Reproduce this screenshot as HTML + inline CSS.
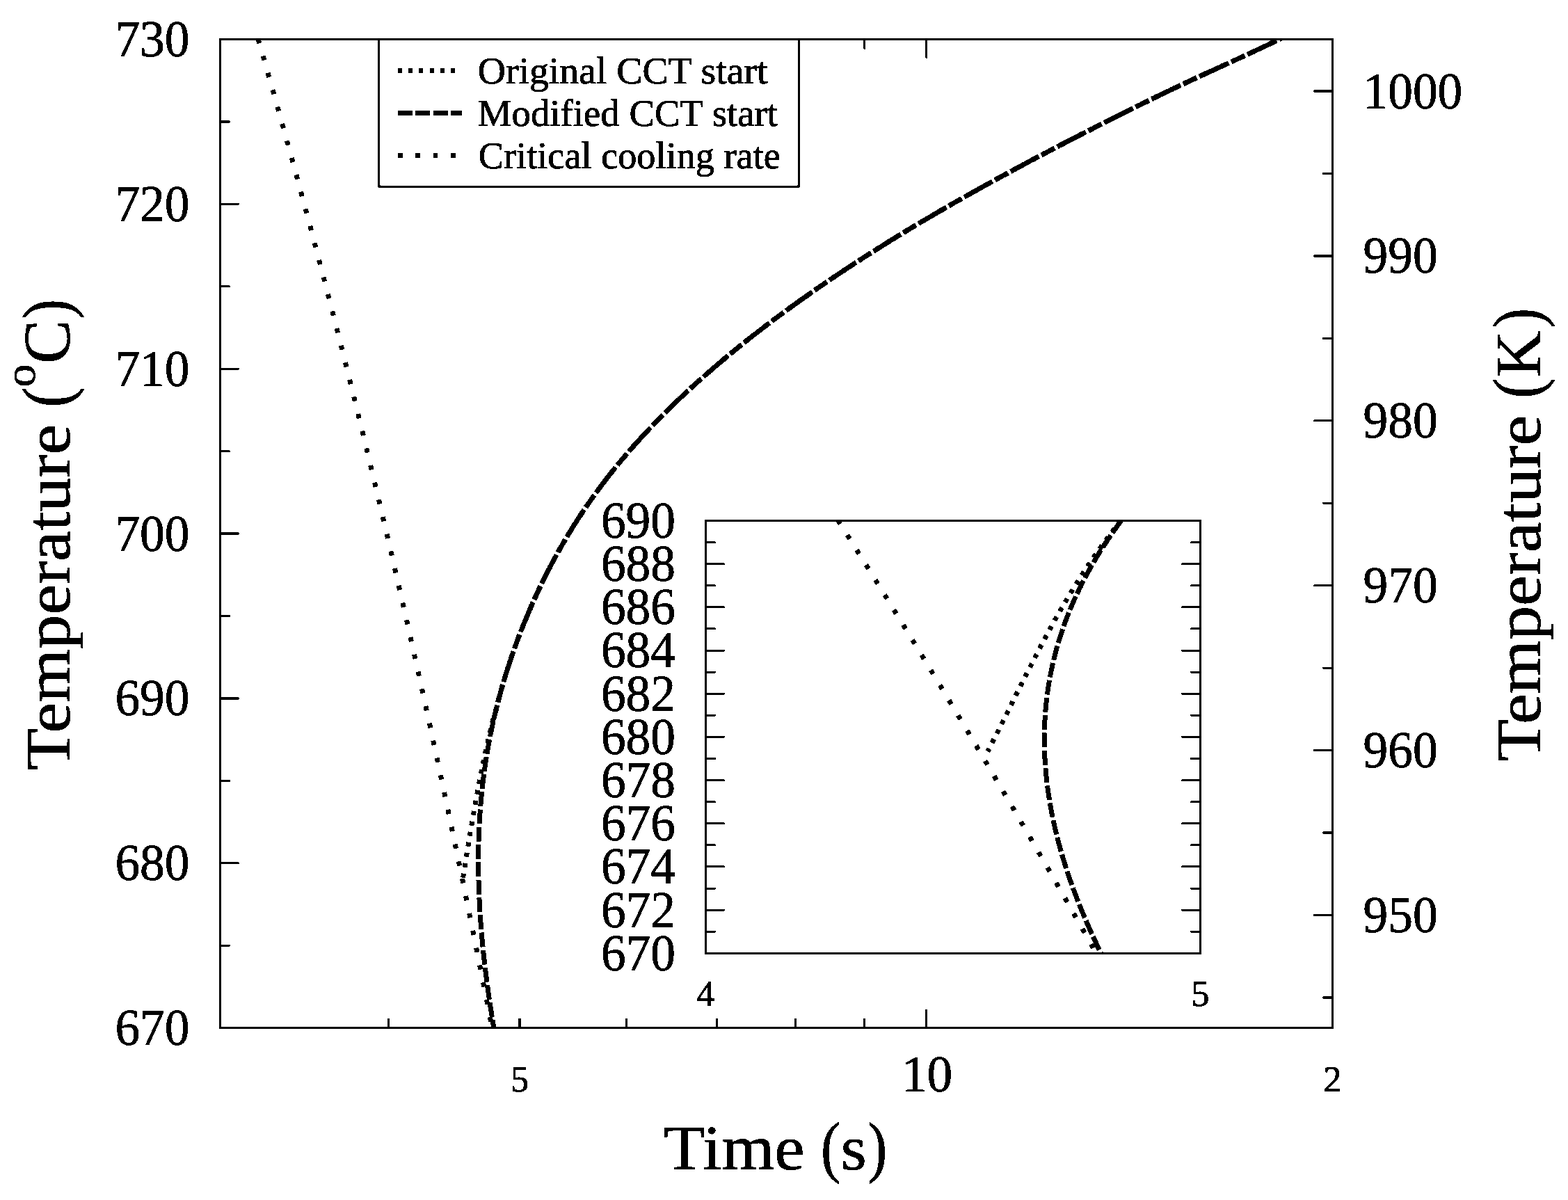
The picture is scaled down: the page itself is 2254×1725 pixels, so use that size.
<!DOCTYPE html><html><head><meta charset="utf-8"><title>CCT diagram</title><style>html,body{margin:0;padding:0;background:#fff;overflow:hidden}svg{display:block}text{font-family:'Liberation Serif', 'DejaVu Serif', serif;fill:#000;stroke:#000;stroke-width:0.80px}</style></head><body>
<svg width="2254" height="1725" viewBox="0 0 2254 1725">
<rect x="0" y="0" width="2254" height="1725" fill="#fff"/>
<filter id="bin" x="0" y="0" width="2254" height="1725" filterUnits="userSpaceOnUse" color-interpolation-filters="sRGB"><feColorMatrix type="matrix" values="0 0 0 0 0 0 0 0 0 0 0 0 0 0 0 -0.3333 -0.3333 -0.3333 1 0"/><feComponentTransfer><feFuncA type="discrete" tableValues="0 1"/></feComponentTransfer></filter>
<g filter="url(#bin)">
<defs><clipPath id="cm"><rect x="316.5" y="56.5" width="1599.0" height="1421.3"/></clipPath>
<clipPath id="ci"><rect x="1014.5" y="748.5" width="710.9" height="621.8"/></clipPath></defs>
<g clip-path="url(#cm)" fill="none" stroke="#000" stroke-width="7.0" stroke-linecap="butt" stroke-linejoin="round">
<path d="M1853.29,49.39 L1851.18,50.46 L1849.07,51.52 L1846.94,52.58 L1844.81,53.64 L1842.66,54.70 L1840.51,55.76 L1838.35,56.83 L1836.18,57.89 L1834.00,58.95 L1831.81,60.01 L1829.61,61.07 L1827.41,62.14 L1825.20,63.20 L1822.98,64.26 L1820.75,65.32 L1818.52,66.38 L1816.28,67.45 L1814.04,68.51 L1811.78,69.57 L1809.53,70.63 L1807.26,71.69 L1804.99,72.75 L1802.72,73.82 L1800.44,74.88 L1798.16,75.94 L1795.87,77.00 L1793.58,78.06 L1791.28,79.13 L1788.98,80.19 L1786.68,81.25 L1784.37,82.31 L1782.07,83.37 L1779.75,84.43 L1777.44,85.50 L1775.12,86.56 L1772.80,87.62 L1770.48,88.68 L1768.16,89.74 L1765.84,90.81 L1763.52,91.87 L1761.19,92.93 L1758.87,93.99 L1756.54,95.05 L1754.21,96.11 L1751.89,97.18 L1749.56,98.24 L1747.24,99.30 L1744.92,100.36 L1742.60,101.42 L1740.27,102.49 L1737.96,103.55 L1735.64,104.61 L1733.32,105.67 L1731.01,106.73 L1728.70,107.79 L1726.39,108.86 L1724.09,109.92 L1721.79,110.98 L1719.49,112.04 L1717.20,113.10 L1714.91,114.17 L1712.62,115.23 L1710.34,116.29 L1708.07,117.35 L1705.80,118.41 L1703.53,119.47 L1701.27,120.54 L1699.02,121.60 L1696.77,122.66 L1694.52,123.72 L1692.28,124.78 L1690.04,125.85 L1687.81,126.91 L1685.58,127.97 L1683.35,129.03 L1681.13,130.09 L1678.91,131.15 L1676.70,132.22 L1674.49,133.28 L1672.29,134.34 L1670.09,135.40 L1667.89,136.46 L1665.70,137.53 L1663.51,138.59 L1661.32,139.65 L1659.14,140.71 L1656.96,141.77 L1654.78,142.84 L1652.61,143.90 L1650.44,144.96 L1648.28,146.02 L1646.11,147.08 L1643.95,148.14 L1641.79,149.21 L1639.64,150.27 L1637.49,151.33 L1635.34,152.39 L1633.19,153.45 L1631.05,154.52 L1628.91,155.58 L1626.77,156.64 L1624.63,157.70 L1622.50,158.76 L1620.37,159.82 L1618.24,160.89 L1616.11,161.95 L1613.98,163.01 L1611.86,164.07 L1609.74,165.13 L1607.62,166.20 L1605.50,167.26 L1603.38,168.32 L1601.27,169.38 L1599.15,170.44 L1597.04,171.50 L1594.93,172.57 L1592.82,173.63 L1590.72,174.69 L1588.61,175.75 L1586.51,176.81 L1584.41,177.88 L1582.31,178.94 L1580.21,180.00 L1578.12,181.06 L1576.02,182.12 L1573.93,183.18 L1571.84,184.25 L1569.75,185.31 L1567.67,186.37 L1565.58,187.43 L1563.50,188.49 L1561.42,189.56 L1559.34,190.62 L1557.27,191.68 L1555.19,192.74 L1553.12,193.80 L1551.05,194.86 L1548.98,195.93 L1546.91,196.99 L1544.85,198.05 L1542.78,199.11 L1540.72,200.17 L1538.66,201.24 L1536.61,202.30 L1534.55,203.36 L1532.50,204.42 L1530.45,205.48 L1528.40,206.54 L1526.35,207.61 L1524.31,208.67 L1522.26,209.73 L1520.22,210.79 L1518.19,211.85 L1516.15,212.92 L1514.11,213.98 L1512.08,215.04 L1510.05,216.10 L1508.02,217.16 L1506.00,218.23 L1503.97,219.29 L1501.95,220.35 L1499.93,221.41 L1497.91,222.47 L1495.90,223.53 L1493.88,224.60 L1491.87,225.66 L1489.86,226.72 L1487.86,227.78 L1485.85,228.84 L1483.85,229.91 L1481.85,230.97 L1479.85,232.03 L1477.86,233.09 L1475.86,234.15 L1473.87,235.21 L1471.88,236.28 L1469.90,237.34 L1467.91,238.40 L1465.93,239.46 L1463.95,240.52 L1461.97,241.59 L1460.00,242.65 L1458.02,243.71 L1456.05,244.77 L1454.08,245.83 L1452.12,246.89 L1450.15,247.96 L1448.19,249.02 L1446.23,250.08 L1444.28,251.14 L1442.32,252.20 L1440.37,253.27 L1438.42,254.33 L1436.47,255.39 L1434.53,256.45 L1432.58,257.51 L1430.64,258.57 L1428.71,259.64 L1426.77,260.70 L1424.84,261.76 L1422.91,262.82 L1420.98,263.88 L1419.06,264.95 L1417.13,266.01 L1415.21,267.07 L1413.29,268.13 L1411.38,269.19 L1409.47,270.25 L1407.56,271.32 L1405.65,272.38 L1403.74,273.44 L1401.84,274.50 L1399.94,275.56 L1398.04,276.63 L1396.15,277.69 L1394.25,278.75 L1392.36,279.81 L1390.48,280.87 L1388.59,281.93 L1386.71,283.00 L1384.83,284.06 L1382.95,285.12 L1381.08,286.18 L1379.21,287.24 L1377.34,288.31 L1375.47,289.37 L1373.61,290.43 L1371.75,291.49 L1369.89,292.55 L1368.03,293.62 L1366.18,294.68 L1364.33,295.74 L1362.48,296.80 L1360.63,297.86 L1358.79,298.92 L1356.95,299.99 L1355.12,301.05 L1353.28,302.11 L1351.45,303.17 L1349.62,304.23 L1347.80,305.30 L1345.97,306.36 L1344.15,307.42 L1342.34,308.48 L1340.52,309.54 L1338.71,310.60 L1336.90,311.67 L1335.09,312.73 L1333.29,313.79 L1331.49,314.85 L1329.69,315.91 L1327.90,316.98 L1326.10,318.04 L1324.31,319.10 L1322.53,320.16 L1320.74,321.22 L1318.96,322.28 L1317.19,323.35 L1315.41,324.41 L1313.64,325.47 L1311.87,326.53 L1310.10,327.59 L1308.34,328.66 L1306.58,329.72 L1304.82,330.78 L1303.06,331.84 L1301.31,332.90 L1299.56,333.96 L1297.81,335.03 L1296.07,336.09 L1294.33,337.15 L1292.59,338.21 L1290.85,339.27 L1289.12,340.34 L1287.39,341.40 L1285.66,342.46 L1283.94,343.52 L1282.22,344.58 L1280.50,345.64 L1278.78,346.71 L1277.07,347.77 L1275.36,348.83 L1273.65,349.89 L1271.94,350.95 L1270.24,352.02 L1268.54,353.08 L1266.85,354.14 L1265.15,355.20 L1263.46,356.26 L1261.77,357.32 L1260.09,358.39 L1258.41,359.45 L1256.73,360.51 L1255.05,361.57 L1253.38,362.63 L1251.71,363.70 L1250.04,364.76 L1248.37,365.82 L1246.71,366.88 L1245.05,367.94 L1243.39,369.01 L1241.74,370.07 L1240.09,371.13 L1238.44,372.19 L1236.79,373.25 L1235.15,374.31 L1233.51,375.38 L1231.87,376.44 L1230.24,377.50 L1228.60,378.56 L1226.98,379.62 L1225.35,380.69 L1223.73,381.75 L1222.11,382.81 L1220.49,383.87 L1218.87,384.93 L1217.26,385.99 L1215.65,387.06 L1214.04,388.12 L1212.44,389.18 L1210.84,390.24 L1209.24,391.30 L1207.65,392.37 L1206.05,393.43 L1204.46,394.49 L1202.88,395.55 L1201.29,396.61 L1199.71,397.67 L1198.13,398.74 L1196.56,399.80 L1194.99,400.86 L1193.42,401.92 L1191.85,402.98 L1190.28,404.05 L1188.72,405.11 L1187.16,406.17 L1185.61,407.23 L1184.05,408.29 L1182.50,409.35 L1180.96,410.42 L1179.41,411.48 L1177.87,412.54 L1176.33,413.60 L1174.79,414.66 L1173.26,415.73 L1171.73,416.79 L1170.20,417.85 L1168.68,418.91 L1167.15,419.97 L1165.63,421.03 L1164.12,422.10 L1162.60,423.16 L1161.09,424.22 L1159.58,425.28 L1158.08,426.34 L1156.58,427.41 L1155.08,428.47 L1153.58,429.53 L1152.08,430.59 L1150.59,431.65 L1149.10,432.71 L1147.62,433.78 L1146.13,434.84 L1144.65,435.90 L1143.18,436.96 L1141.70,438.02 L1140.23,439.09 L1138.76,440.15 L1137.29,441.21 L1135.83,442.27 L1134.37,443.33 L1132.91,444.40 L1131.46,445.46 L1130.00,446.52 L1128.55,447.58 L1127.11,448.64 L1125.66,449.70 L1124.22,450.77 L1122.78,451.83 L1121.35,452.89 L1119.92,453.95 L1118.49,455.01 L1117.06,456.08 L1115.63,457.14 L1114.21,458.20 L1112.79,459.26 L1111.38,460.32 L1109.96,461.38 L1108.55,462.45 L1107.15,463.51 L1105.74,464.57 L1104.34,465.63 L1102.94,466.69 L1101.54,467.76 L1100.15,468.82 L1098.76,469.88 L1097.37,470.94 L1095.99,472.00 L1094.60,473.06 L1093.22,474.13 L1091.85,475.19 L1090.47,476.25 L1089.10,477.31 L1087.73,478.37 L1086.37,479.44 L1085.00,480.50 L1083.64,481.56 L1082.29,482.62 L1080.93,483.68 L1079.58,484.74 L1078.23,485.81 L1076.89,486.87 L1075.54,487.93 L1074.20,488.99 L1072.86,490.05 L1071.53,491.12 L1070.20,492.18 L1068.87,493.24 L1067.54,494.30 L1066.22,495.36 L1064.90,496.42 L1063.58,497.49 L1062.26,498.55 L1060.95,499.61 L1059.64,500.67 L1058.33,501.73 L1057.03,502.80 L1055.73,503.86 L1054.43,504.92 L1053.13,505.98 L1051.84,507.04 L1050.55,508.10 L1049.26,509.17 L1047.98,510.23 L1046.69,511.29 L1045.41,512.35 L1044.14,513.41 L1042.86,514.48 L1041.59,515.54 L1040.33,516.60 L1039.06,517.66 L1037.80,518.72 L1036.54,519.79 L1035.28,520.85 L1034.03,521.91 L1032.78,522.97 L1031.53,524.03 L1030.28,525.09 L1029.04,526.16 L1027.80,527.22 L1026.56,528.28 L1025.33,529.34 L1024.09,530.40 L1022.87,531.47 L1021.64,532.53 L1020.42,533.59 L1019.20,534.65 L1017.98,535.71 L1016.76,536.77 L1015.55,537.84 L1014.34,538.90 L1013.13,539.96 L1011.93,541.02 L1010.73,542.08 L1009.53,543.15 L1008.33,544.21 L1007.14,545.27 L1005.95,546.33 L1004.76,547.39 L1003.58,548.45 L1002.40,549.52 L1001.22,550.58 L1000.04,551.64 L998.87,552.70 L997.70,553.76 L996.53,554.83 L995.37,555.89 L994.20,556.95 L993.04,558.01 L991.89,559.07 L990.73,560.13 L989.58,561.20 L988.43,562.26 L987.29,563.32 L986.14,564.38 L985.00,565.44 L983.87,566.51 L982.73,567.57 L981.60,568.63 L980.47,569.69 L979.35,570.75 L978.22,571.81 L977.10,572.88 L975.98,573.94 L974.87,575.00 L973.76,576.06 L972.65,577.12 L971.54,578.19 L970.44,579.25 L969.34,580.31 L968.24,581.37 L967.14,582.43 L966.05,583.49 L964.96,584.56 L963.87,585.62 L962.79,586.68 L961.71,587.74 L960.63,588.80 L959.55,589.87 L958.48,590.93 L957.41,591.99 L956.34,593.05 L955.27,594.11 L954.21,595.18 L953.15,596.24 L952.10,597.30 L951.04,598.36 L949.99,599.42 L948.94,600.48 L947.90,601.55 L946.85,602.61 L945.81,603.67 L944.78,604.73 L943.74,605.79 L942.71,606.86 L941.68,607.92 L940.65,608.98 L939.63,610.04 L938.61,611.10 L937.59,612.16 L936.58,613.23 L935.56,614.29 L934.56,615.35 L933.55,616.41 L932.54,617.47 L931.54,618.54 L930.54,619.60 L929.55,620.66 L928.56,621.72 L927.57,622.78 L926.58,623.84 L925.59,624.91 L924.61,625.97 L923.63,627.03 L922.66,628.09 L921.68,629.15 L920.71,630.22 L919.74,631.28 L918.78,632.34 L917.82,633.40 L916.86,634.46 L915.90,635.52 L914.95,636.59 L913.99,637.65 L913.04,638.71 L912.10,639.77 L911.16,640.83 L910.22,641.90 L909.28,642.96 L908.34,644.02 L907.41,645.08 L906.48,646.14 L905.56,647.20 L904.63,648.27 L903.71,649.33 L902.79,650.39 L901.88,651.45 L900.96,652.51 L900.05,653.58 L899.15,654.64 L898.24,655.70 L897.34,656.76 L896.44,657.82 L895.55,658.88 L894.65,659.95 L893.76,661.01 L892.87,662.07 L891.99,663.13 L891.11,664.19 L890.23,665.26 L889.35,666.32 L888.48,667.38 L887.61,668.44 L886.74,669.50 L885.87,670.57 L885.01,671.63 L884.15,672.69 L883.29,673.75 L882.43,674.81 L881.58,675.87 L880.73,676.94 L879.89,678.00 L879.04,679.06 L878.20,680.12 L877.36,681.18 L876.52,682.25 L875.69,683.31 L874.86,684.37 L874.03,685.43 L873.21,686.49 L872.38,687.55 L871.56,688.62 L870.74,689.68 L869.93,690.74 L869.12,691.80 L868.31,692.86 L867.50,693.93 L866.69,694.99 L865.89,696.05 L865.09,697.11 L864.29,698.17 L863.50,699.23 L862.71,700.30 L861.92,701.36 L861.13,702.42 L860.34,703.48 L859.56,704.54 L858.78,705.61 L858.01,706.67 L857.23,707.73 L856.46,708.79 L855.69,709.85 L854.92,710.91 L854.16,711.98 L853.39,713.04 L852.64,714.10 L851.88,715.16 L851.12,716.22 L850.37,717.29 L849.62,718.35 L848.87,719.41 L848.13,720.47 L847.38,721.53 L846.64,722.59 L845.91,723.66 L845.17,724.72 L844.44,725.78 L843.71,726.84 L842.98,727.90 L842.25,728.97 L841.53,730.03 L840.81,731.09 L840.09,732.15 L839.37,733.21 L838.66,734.27 L837.95,735.34 L837.24,736.40 L836.53,737.46 L835.82,738.52 L835.12,739.58 L834.42,740.65 L833.72,741.71 L833.03,742.77 L832.33,743.83 L831.64,744.89 L830.95,745.96 L830.27,747.02 L829.58,748.08 L828.90,749.14 L828.22,750.20 L827.54,751.26 L826.87,752.33 L826.19,753.39 L825.52,754.45 L824.85,755.51 L824.19,756.57 L823.52,757.64 L822.86,758.70 L822.20,759.76 L821.54,760.82 L820.89,761.88 L820.23,762.94 L819.58,764.01 L818.93,765.07 L818.29,766.13 L817.64,767.19 L817.00,768.25 L816.36,769.32 L815.72,770.38 L815.08,771.44 L814.45,772.50 L813.81,773.56 L813.18,774.62 L812.56,775.69 L811.93,776.75 L811.31,777.81 L810.68,778.87 L810.06,779.93 L809.45,781.00 L808.83,782.06 L808.22,783.12 L807.61,784.18 L807.00,785.24 L806.39,786.30 L805.78,787.37 L805.18,788.43 L804.58,789.49 L803.98,790.55 L803.38,791.61 L802.79,792.68 L802.19,793.74 L801.60,794.80 L801.01,795.86 L800.42,796.92 L799.84,797.98 L799.25,799.05 L798.67,800.11 L798.09,801.17 L797.51,802.23 L796.94,803.29 L796.36,804.36 L795.79,805.42 L795.22,806.48 L794.65,807.54 L794.09,808.60 L793.52,809.66 L792.96,810.73 L792.40,811.79 L791.84,812.85 L791.28,813.91 L790.73,814.97 L790.17,816.04 L789.62,817.10 L789.07,818.16 L788.52,819.22 L787.98,820.28 L787.43,821.35 L786.89,822.41 L786.35,823.47 L785.81,824.53 L785.27,825.59 L784.74,826.65 L784.20,827.72 L783.67,828.78 L783.14,829.84 L782.61,830.90 L782.09,831.96 L781.56,833.03 L781.04,834.09 L780.52,835.15 L780.00,836.21 L779.48,837.27 L778.96,838.33 L778.45,839.40 L777.94,840.46 L777.43,841.52 L776.92,842.58 L776.41,843.64 L775.90,844.71 L775.40,845.77 L774.89,846.83 L774.39,847.89 L773.89,848.95 L773.40,850.01 L772.90,851.08 L772.41,852.14 L771.91,853.20 L771.42,854.26 L770.93,855.32 L770.44,856.39 L769.96,857.45 L769.47,858.51 L768.99,859.57 L768.51,860.63 L768.03,861.69 L767.55,862.76 L767.07,863.82 L766.60,864.88 L766.12,865.94 L765.65,867.00 L765.18,868.07 L764.71,869.13 L764.24,870.19 L763.77,871.25 L763.31,872.31 L762.85,873.37 L762.38,874.44 L761.92,875.50 L761.46,876.56 L761.01,877.62 L760.55,878.68 L760.10,879.75 L759.64,880.81 L759.19,881.87 L758.74,882.93 L758.30,883.99 L757.85,885.05 L757.40,886.12 L756.96,887.18 L756.52,888.24 L756.08,889.30 L755.64,890.36 L755.20,891.43 L754.76,892.49 L754.33,893.55 L753.90,894.61 L753.46,895.67 L753.03,896.74 L752.60,897.80 L752.18,898.86 L751.75,899.92 L751.33,900.98 L750.91,902.04 L750.48,903.11 L750.06,904.17 L749.65,905.23 L749.23,906.29 L748.81,907.35 L748.40,908.42 L747.99,909.48 L747.58,910.54 L747.17,911.60 L746.76,912.66 L746.35,913.72 L745.95,914.79 L745.55,915.85 L745.14,916.91 L744.74,917.97 L744.34,919.03 L743.95,920.10 L743.55,921.16 L743.16,922.22 L742.76,923.28 L742.37,924.34 L741.98,925.40 L741.59,926.47 L741.21,927.53 L740.82,928.59 L740.44,929.65 L740.05,930.71 L739.67,931.78 L739.29,932.84 L738.92,933.90 L738.54,934.96 L738.16,936.02 L737.79,937.08 L737.42,938.15 L737.05,939.21 L736.68,940.27 L736.31,941.33 L735.94,942.39 L735.58,943.46 L735.21,944.52 L734.85,945.58 L734.49,946.64 L734.13,947.70 L733.77,948.76 L733.42,949.83 L733.06,950.89 L732.71,951.95 L732.36,953.01 L732.01,954.07 L731.66,955.14 L731.31,956.20 L730.97,957.26 L730.62,958.32 L730.28,959.38 L729.94,960.44 L729.60,961.51 L729.26,962.57 L728.92,963.63 L728.59,964.69 L728.25,965.75 L727.92,966.82 L727.59,967.88 L727.26,968.94 L726.93,970.00 L726.60,971.06 L726.28,972.13 L725.95,973.19 L725.63,974.25 L725.31,975.31 L724.99,976.37 L724.67,977.43 L724.35,978.50 L724.04,979.56 L723.72,980.62 L723.41,981.68 L723.10,982.74 L722.79,983.81 L722.48,984.87 L722.17,985.93 L721.87,986.99 L721.56,988.05 L721.26,989.11 L720.96,990.18 L720.66,991.24 L720.36,992.30 L720.06,993.36 L719.77,994.42 L719.47,995.49 L719.18,996.55 L718.89,997.61 L718.60,998.67 L718.31,999.73 L718.03,1000.79 L717.74,1001.86 L717.46,1002.92 L717.17,1003.98" stroke-dasharray="21 4.33" stroke-dashoffset="5.00"/>
<path d="M717.17,1003.98 L716.96,1004.78 L716.75,1005.59 L716.54,1006.39 L716.33,1007.19 L716.12,1007.99 L715.91,1008.80 L715.70,1009.60 L715.50,1010.40 L715.29,1011.20 L715.08,1012.01 L714.88,1012.81 L714.67,1013.61 L714.47,1014.42 L714.27,1015.22 L714.07,1016.02 L713.87,1016.82 L713.67,1017.63 L713.47,1018.43 L713.27,1019.23 L713.07,1020.03 L712.88,1020.84 L712.68,1021.64 L712.49,1022.44 L712.29,1023.25 L712.10,1024.05 L711.91,1024.85 L711.71,1025.65 L711.52,1026.46 L711.33,1027.26 L711.14,1028.06 L710.96,1028.87 L710.77,1029.67 L710.58,1030.47 L710.40,1031.27 L710.21,1032.08 L710.03,1032.88 L709.84,1033.68 L709.66,1034.48 L709.48,1035.29 L709.30,1036.09 L709.12,1036.89 L708.94,1037.70 L708.76,1038.50 L708.58,1039.30 L708.40,1040.10 L708.23,1040.91 L708.05,1041.71 L707.87,1042.51 L707.70,1043.31 L707.53,1044.12 L707.35,1044.92 L707.18,1045.72 L707.01,1046.53 L706.84,1047.33 L706.67,1048.13 L706.50,1048.93 L706.34,1049.74 L706.17,1050.54 L706.00,1051.34 L705.84,1052.14 L705.67,1052.95 L705.51,1053.75 L705.35,1054.55 L705.18,1055.36 L705.02,1056.16 L704.86,1056.96 L704.70,1057.76 L704.54,1058.57 L704.39,1059.37 L704.23,1060.17 L704.07,1060.98 L703.92,1061.78 L703.76,1062.58 L703.61,1063.38 L703.45,1064.19 L703.30,1064.99 L703.15,1065.79 L703.00,1066.59 L702.85,1067.40 L702.70,1068.20 L702.55,1069.00 L702.40,1069.81 L702.25,1070.61 L702.11,1071.41 L701.96,1072.21 L701.82,1073.02 L701.67,1073.82 L701.53,1074.62 L701.39,1075.42 L701.25,1076.23 L701.11,1077.03 L700.97,1077.83 L700.83,1078.64 L700.69,1079.44 L700.55,1080.24 L700.41,1081.04 L700.28,1081.85 L700.14,1082.65 L700.01,1083.45 L699.87,1084.25 L699.74,1085.06 L699.61,1085.86 L699.48,1086.66 L699.35,1087.47 L699.22,1088.27 L699.09,1089.07 L698.96,1089.87 L698.83,1090.68 L698.70,1091.48 L698.58,1092.28 L698.45,1093.09 L698.33,1093.89 L698.20,1094.69 L698.08,1095.49 L697.96,1096.30 L697.84,1097.10 L697.72,1097.90 L697.60,1098.70 L697.48,1099.51 L697.36,1100.31 L697.24,1101.11 L697.13,1101.92 L697.01,1102.72 L696.89,1103.52 L696.78,1104.32 L696.67,1105.13 L696.55,1105.93 L696.44,1106.73 L696.33,1107.53 L696.22,1108.34 L696.11,1109.14 L696.00,1109.94 L695.89,1110.75 L695.78,1111.55 L695.68,1112.35 L695.57,1113.15 L695.47,1113.96 L695.36,1114.76 L695.26,1115.56 L695.16,1116.36 L695.05,1117.17 L694.95,1117.97 L694.85,1118.77 L694.75,1119.58 L694.65,1120.38 L694.55,1121.18 L694.45,1121.98 L694.36,1122.79 L694.26,1123.59 L694.17,1124.39 L694.07,1125.19 L693.98,1126.00 L693.88,1126.80 L693.79,1127.60 L693.70,1128.41 L693.61,1129.21 L693.52,1130.01 L693.43,1130.81 L693.34,1131.62 L693.25,1132.42 L693.16,1133.22 L693.08,1134.03 L692.99,1134.83 L692.91,1135.63 L692.82,1136.43 L692.74,1137.24 L692.65,1138.04 L692.57,1138.84 L692.49,1139.64 L692.41,1140.45 L692.33,1141.25 L692.25,1142.05 L692.17,1142.86 L692.09,1143.66 L692.02,1144.46 L691.94,1145.26 L691.86,1146.07 L691.79,1146.87 L691.71,1147.67 L691.64,1148.47 L691.57,1149.28 L691.49,1150.08 L691.42,1150.88 L691.35,1151.69 L691.28,1152.49 L691.21,1153.29 L691.14,1154.09 L691.08,1154.90 L691.01,1155.70 L690.94,1156.50 L690.88,1157.30 L690.81,1158.11 L690.75,1158.91 L690.68,1159.71 L690.62,1160.52 L690.56,1161.32 L690.49,1162.12 L690.43,1162.92 L690.37,1163.73 L690.31,1164.53 L690.25,1165.33 L690.20,1166.14 L690.14,1166.94 L690.08,1167.74 L690.03,1168.54 L689.97,1169.35 L689.91,1170.15 L689.86,1170.95 L689.81,1171.75 L689.75,1172.56 L689.70,1173.36 L689.65,1174.16 L689.60,1174.97 L689.55,1175.77 L689.50,1176.57 L689.45,1177.37 L689.40,1178.18 L689.36,1178.98 L689.31,1179.78 L689.26,1180.58 L689.22,1181.39 L689.17,1182.19 L689.13,1182.99 L689.09,1183.80 L689.04,1184.60 L689.00,1185.40 L688.96,1186.20 L688.92,1187.01 L688.88,1187.81 L688.84,1188.61 L688.80,1189.41 L688.76,1190.22 L688.73,1191.02 L688.69,1191.82 L688.65,1192.63 L688.62,1193.43 L688.58,1194.23 L688.55,1195.03 L688.52,1195.84 L688.48,1196.64 L688.45,1197.44 L688.42,1198.25 L688.39,1199.05 L688.36,1199.85 L688.33,1200.65 L688.30,1201.46 L688.27,1202.26 L688.24,1203.06 L688.22,1203.86 L688.19,1204.67 L688.16,1205.47 L688.14,1206.27 L688.11,1207.08 L688.09,1207.88 L688.07,1208.68 L688.05,1209.48 L688.02,1210.29 L688.00,1211.09 L687.98,1211.89 L687.96,1212.69 L687.94,1213.50 L687.92,1214.30 L687.91,1215.10 L687.89,1215.91 L687.87,1216.71 L687.86,1217.51 L687.84,1218.31 L687.82,1219.12 L687.81,1219.92 L687.80,1220.72 L687.78,1221.52 L687.77,1222.33 L687.76,1223.13 L687.75,1223.93 L687.74,1224.74 L687.73,1225.54 L687.72,1226.34 L687.71,1227.14 L687.70,1227.95 L687.69,1228.75 L687.69,1229.55 L687.68,1230.35 L687.67,1231.16 L687.67,1231.96 L687.67,1232.76 L687.66,1233.57 L687.66,1234.37 L687.66,1235.17 L687.65,1235.97 L687.65,1236.78 L687.65,1237.58 L687.65,1238.38 L687.65,1239.19 L687.65,1239.99 L687.65,1240.79 L687.66,1241.59 L687.66,1242.40 L687.66,1243.20 L687.67,1244.00 L687.67,1244.80 L687.68,1245.61 L687.68,1246.41 L687.69,1247.21 L687.69,1248.02 L687.70,1248.82 L687.71,1249.62 L687.72,1250.42 L687.73,1251.23 L687.74,1252.03 L687.75,1252.83 L687.76,1253.63 L687.77,1254.44 L687.78,1255.24 L687.80,1256.04 L687.81,1256.85 L687.82,1257.65 L687.84,1258.45 L687.85,1259.25 L687.87,1260.06 L687.88,1260.86 L687.90,1261.66 L687.92,1262.46 L687.94,1263.27 L687.95,1264.07 L687.97,1264.87 L687.99,1265.68 L688.01,1266.48 L688.03,1267.28 L688.05,1268.08 L688.08,1268.89 L688.10,1269.69 L688.12,1270.49 L688.15,1271.30 L688.17,1272.10 L688.19,1272.90 L688.22,1273.70 L688.24,1274.51 L688.27,1275.31 L688.30,1276.11 L688.33,1276.91 L688.35,1277.72 L688.38,1278.52 L688.41,1279.32 L688.44,1280.13 L688.47,1280.93 L688.50,1281.73 L688.53,1282.53 L688.56,1283.34 L688.60,1284.14 L688.63,1284.94 L688.66,1285.74 L688.70,1286.55 L688.73,1287.35 L688.77,1288.15 L688.80,1288.96 L688.84,1289.76 L688.87,1290.56 L688.91,1291.36 L688.95,1292.17 L688.99,1292.97 L689.03,1293.77 L689.07,1294.57 L689.11,1295.38 L689.15,1296.18 L689.19,1296.98 L689.23,1297.79 L689.27,1298.59 L689.31,1299.39 L689.36,1300.19 L689.40,1301.00 L689.44,1301.80 L689.49,1302.60 L689.53,1303.41 L689.58,1304.21 L689.62,1305.01 L689.67,1305.81 L689.72,1306.62 L689.77,1307.42 L689.81,1308.22 L689.86,1309.02 L689.91,1309.83 L689.96,1310.63 L690.01,1311.43 L690.06,1312.24 L690.11,1313.04 L690.16,1313.84 L690.22,1314.64 L690.27,1315.45 L690.32,1316.25 L690.38,1317.05 L690.43,1317.85 L690.49,1318.66 L690.54,1319.46 L690.60,1320.26 L690.65,1321.07 L690.71,1321.87 L690.77,1322.67 L690.82,1323.47 L690.88,1324.28 L690.94,1325.08 L691.00,1325.88 L691.06,1326.68 L691.12,1327.49 L691.18,1328.29 L691.24,1329.09 L691.30,1329.90 L691.37,1330.70 L691.43,1331.50 L691.49,1332.30 L691.56,1333.11 L691.62,1333.91 L691.68,1334.71 L691.75,1335.51 L691.81,1336.32 L691.88,1337.12 L691.95,1337.92 L692.01,1338.73 L692.08,1339.53 L692.15,1340.33 L692.22,1341.13 L692.29,1341.94 L692.35,1342.74 L692.42,1343.54 L692.49,1344.35 L692.57,1345.15 L692.64,1345.95 L692.71,1346.75 L692.78,1347.56 L692.85,1348.36 L692.93,1349.16 L693.00,1349.96 L693.07,1350.77 L693.15,1351.57 L693.22,1352.37 L693.30,1353.18 L693.37,1353.98 L693.45,1354.78 L693.53,1355.58 L693.60,1356.39 L693.68,1357.19 L693.76,1357.99 L693.84,1358.79 L693.92,1359.60 L694.00,1360.40 L694.08,1361.20 L694.16,1362.01 L694.24,1362.81 L694.32,1363.61 L694.40,1364.41 L694.48,1365.22 L694.56,1366.02 L694.65,1366.82 L694.73,1367.62 L694.81,1368.43 L694.90,1369.23 L694.98,1370.03 L695.07,1370.84 L695.15,1371.64 L695.24,1372.44 L695.33,1373.24 L695.41,1374.05 L695.50,1374.85 L695.59,1375.65 L695.68,1376.46 L695.76,1377.26 L695.85,1378.06 L695.94,1378.86 L696.03,1379.67 L696.12,1380.47 L696.21,1381.27 L696.30,1382.07 L696.40,1382.88 L696.49,1383.68 L696.58,1384.48 L696.67,1385.29 L696.77,1386.09 L696.86,1386.89 L696.95,1387.69 L697.05,1388.50 L697.14,1389.30 L697.24,1390.10 L697.33,1390.90 L697.43,1391.71 L697.53,1392.51 L697.62,1393.31 L697.72,1394.12 L697.82,1394.92 L697.92,1395.72 L698.01,1396.52 L698.11,1397.33 L698.21,1398.13 L698.31,1398.93 L698.41,1399.73 L698.51,1400.54 L698.61,1401.34 L698.71,1402.14 L698.82,1402.95 L698.92,1403.75 L699.02,1404.55 L699.12,1405.35 L699.23,1406.16 L699.33,1406.96 L699.43,1407.76 L699.54,1408.57 L699.64,1409.37 L699.75,1410.17 L699.85,1410.97 L699.96,1411.78 L700.07,1412.58 L700.17,1413.38 L700.28,1414.18 L700.39,1414.99 L700.50,1415.79 L700.60,1416.59 L700.71,1417.40 L700.82,1418.20 L700.93,1419.00 L701.04,1419.80 L701.15,1420.61 L701.26,1421.41 L701.37,1422.21 L701.48,1423.01 L701.59,1423.82 L701.71,1424.62 L701.82,1425.42 L701.93,1426.23 L702.04,1427.03 L702.16,1427.83 L702.27,1428.63 L702.39,1429.44 L702.50,1430.24 L702.62,1431.04 L702.73,1431.84 L702.85,1432.65 L702.96,1433.45 L703.08,1434.25 L703.19,1435.06 L703.31,1435.86 L703.43,1436.66 L703.55,1437.46 L703.66,1438.27 L703.78,1439.07 L703.90,1439.87 L704.02,1440.67 L704.14,1441.48 L704.26,1442.28 L704.38,1443.08 L704.50,1443.89 L704.62,1444.69 L704.74,1445.49 L704.86,1446.29 L704.99,1447.10 L705.11,1447.90 L705.23,1448.70 L705.35,1449.51 L705.48,1450.31 L705.60,1451.11 L705.72,1451.91 L705.85,1452.72 L705.97,1453.52 L706.10,1454.32 L706.22,1455.12 L706.35,1455.93 L706.47,1456.73 L706.60,1457.53 L706.73,1458.34 L706.85,1459.14 L706.98,1459.94 L707.11,1460.74 L707.24,1461.55 L707.36,1462.35 L707.49,1463.15 L707.62,1463.95 L707.75,1464.76 L707.88,1465.56 L708.01,1466.36 L708.14,1467.17 L708.27,1467.97 L708.40,1468.77 L708.53,1469.57 L708.66,1470.38 L708.79,1471.18 L708.93,1471.98 L709.06,1472.78 L709.19,1473.59 L709.32,1474.39 L709.46,1475.19 L709.59,1476.00 L709.72,1476.80 L709.86,1477.60 L709.99,1478.40 L710.13,1479.21 L710.26,1480.01 L710.40,1480.81 L710.53,1481.62 L710.67,1482.42 L710.80,1483.22 L710.94,1484.02 L711.08,1484.83" stroke-dasharray="21 4.33" stroke-dashoffset="1535.19"/>
<path d="M1853.29,49.39 L1850.93,50.58 L1848.57,51.77 L1846.19,52.96 L1843.80,54.14 L1841.39,55.33 L1838.98,56.52 L1836.55,57.70 L1834.12,58.89 L1831.67,60.08 L1829.21,61.27 L1826.75,62.45 L1824.27,63.64 L1821.79,64.83 L1819.29,66.02 L1816.79,67.20 L1814.28,68.39 L1811.76,69.58 L1809.24,70.77 L1806.71,71.95 L1804.17,73.14 L1801.62,74.33 L1799.07,75.51 L1796.52,76.70 L1793.96,77.89 L1791.39,79.08 L1788.82,80.26 L1786.24,81.45 L1783.66,82.64 L1781.08,83.83 L1778.49,85.01 L1775.90,86.20 L1773.31,87.39 L1770.72,88.57 L1768.12,89.76 L1765.52,90.95 L1762.93,92.14 L1760.33,93.32 L1757.73,94.51 L1755.13,95.70 L1752.53,96.89 L1749.93,98.07 L1747.33,99.26 L1744.73,100.45 L1742.13,101.63 L1739.54,102.82 L1736.95,104.01 L1734.36,105.20 L1731.77,106.38 L1729.19,107.57 L1726.61,108.76 L1724.03,109.95 L1721.46,111.13 L1718.89,112.32 L1716.33,113.51 L1713.77,114.70 L1711.22,115.88 L1708.67,117.07 L1706.13,118.26 L1703.60,119.44 L1701.07,120.63 L1698.55,121.82 L1696.03,123.01 L1693.52,124.19 L1691.02,125.38 L1688.52,126.57 L1686.02,127.76 L1683.54,128.94 L1681.05,130.13 L1678.58,131.32 L1676.10,132.50 L1673.63,133.69 L1671.17,134.88 L1668.71,136.07 L1666.26,137.25 L1663.81,138.44 L1661.37,139.63 L1658.92,140.82 L1656.49,142.00 L1654.06,143.19 L1651.63,144.38 L1649.20,145.56 L1646.78,146.75 L1644.37,147.94 L1641.96,149.13 L1639.55,150.31 L1637.14,151.50 L1634.74,152.69 L1632.34,153.88 L1629.94,155.06 L1627.55,156.25 L1625.16,157.44 L1622.77,158.63 L1620.39,159.81 L1618.01,161.00 L1615.63,162.19 L1613.25,163.37 L1610.88,164.56 L1608.51,165.75 L1606.14,166.94 L1603.77,168.12 L1601.41,169.31 L1599.04,170.50 L1596.68,171.69 L1594.32,172.87 L1591.97,174.06 L1589.61,175.25 L1587.26,176.43 L1584.91,177.62 L1582.56,178.81 L1580.22,180.00 L1577.88,181.18 L1575.53,182.37 L1573.20,183.56 L1570.86,184.75 L1568.53,185.93 L1566.20,187.12 L1563.87,188.31 L1561.54,189.49 L1559.22,190.68 L1556.89,191.87 L1554.58,193.06 L1552.26,194.24 L1549.94,195.43 L1547.63,196.62 L1545.32,197.81 L1543.02,198.99 L1540.71,200.18 L1538.41,201.37 L1536.11,202.56 L1533.81,203.74 L1531.52,204.93 L1529.22,206.12 L1526.94,207.30 L1524.65,208.49 L1522.36,209.68 L1520.08,210.87 L1517.80,212.05 L1515.53,213.24 L1513.25,214.43 L1510.98,215.62 L1508.71,216.80 L1506.44,217.99 L1504.18,219.18 L1501.92,220.36 L1499.66,221.55 L1497.41,222.74 L1495.15,223.93 L1492.90,225.11 L1490.66,226.30 L1488.41,227.49 L1486.17,228.68 L1483.93,229.86 L1481.69,231.05 L1479.46,232.24 L1477.23,233.42 L1475.00,234.61 L1472.77,235.80 L1470.55,236.99 L1468.33,238.17 L1466.12,239.36 L1463.90,240.55 L1461.69,241.74 L1459.48,242.92 L1457.28,244.11 L1455.07,245.30 L1452.87,246.49 L1450.68,247.67 L1448.48,248.86 L1446.29,250.05 L1444.11,251.23 L1441.92,252.42 L1439.74,253.61 L1437.56,254.80 L1435.38,255.98 L1433.21,257.17 L1431.04,258.36 L1428.87,259.55 L1426.71,260.73 L1424.55,261.92 L1422.39,263.11 L1420.24,264.29 L1418.08,265.48 L1415.94,266.67 L1413.79,267.86 L1411.65,269.04 L1409.51,270.23 L1407.37,271.42 L1405.24,272.61 L1403.11,273.79 L1400.98,274.98 L1398.86,276.17 L1396.74,277.35 L1394.62,278.54 L1392.51,279.73 L1390.40,280.92 L1388.29,282.10 L1386.19,283.29 L1384.09,284.48 L1381.99,285.67 L1379.90,286.85 L1377.80,288.04 L1375.72,289.23 L1373.63,290.42 L1371.55,291.60 L1369.47,292.79 L1367.40,293.98 L1365.33,295.16 L1363.26,296.35 L1361.20,297.54 L1359.14,298.73 L1357.08,299.91 L1355.02,301.10 L1352.97,302.29 L1350.93,303.48 L1348.88,304.66 L1346.84,305.85 L1344.81,307.04 L1342.77,308.22 L1340.74,309.41 L1338.72,310.60 L1336.69,311.79 L1334.68,312.97 L1332.66,314.16 L1330.65,315.35 L1328.64,316.54 L1326.63,317.72 L1324.63,318.91 L1322.63,320.10 L1320.64,321.28 L1318.65,322.47 L1316.66,323.66 L1314.68,324.85 L1312.70,326.03 L1310.72,327.22 L1308.75,328.41 L1306.78,329.60 L1304.81,330.78 L1302.85,331.97 L1300.89,333.16 L1298.93,334.34 L1296.98,335.53 L1295.03,336.72 L1293.09,337.91 L1291.15,339.09 L1289.21,340.28 L1287.27,341.47 L1285.34,342.66 L1283.41,343.84 L1281.49,345.03 L1279.57,346.22 L1277.65,347.41 L1275.74,348.59 L1273.83,349.78 L1271.92,350.97 L1270.02,352.15 L1268.12,353.34 L1266.22,354.53 L1264.33,355.72 L1262.44,356.90 L1260.56,358.09 L1258.68,359.28 L1256.80,360.47 L1254.92,361.65 L1253.05,362.84 L1251.18,364.03 L1249.32,365.21 L1247.46,366.40 L1245.60,367.59 L1243.75,368.78 L1241.90,369.96 L1240.05,371.15 L1238.21,372.34 L1236.37,373.53 L1234.53,374.71 L1232.70,375.90 L1230.87,377.09 L1229.04,378.27 L1227.22,379.46 L1225.40,380.65 L1223.59,381.84 L1221.78,383.02 L1219.97,384.21 L1218.16,385.40 L1216.36,386.59 L1214.57,387.77 L1212.77,388.96 L1210.98,390.15 L1209.19,391.34 L1207.41,392.52 L1205.63,393.71 L1203.85,394.90 L1202.08,396.08 L1200.31,397.27 L1198.55,398.46 L1196.78,399.65 L1195.02,400.83 L1193.27,402.02 L1191.52,403.21 L1189.77,404.40 L1188.02,405.58 L1186.28,406.77 L1184.54,407.96 L1182.81,409.14 L1181.08,410.33 L1179.35,411.52 L1177.63,412.71 L1175.91,413.89 L1174.19,415.08 L1172.48,416.27 L1170.77,417.46 L1169.06,418.64 L1167.36,419.83 L1165.66,421.02 L1163.96,422.20 L1162.27,423.39 L1160.58,424.58 L1158.90,425.77 L1157.21,426.95 L1155.54,428.14 L1153.86,429.33 L1152.19,430.52 L1150.52,431.70 L1148.86,432.89 L1147.20,434.08 L1145.54,435.27 L1143.89,436.45 L1142.24,437.64 L1140.59,438.83 L1138.94,440.01 L1137.31,441.20 L1135.67,442.39 L1134.04,443.58 L1132.41,444.76 L1130.78,445.95 L1129.16,447.14 L1127.54,448.33 L1125.92,449.51 L1124.31,450.70 L1122.70,451.89 L1121.10,453.07 L1119.50,454.26 L1117.90,455.45 L1116.31,456.64 L1114.71,457.82 L1113.13,459.01 L1111.54,460.20 L1109.96,461.39 L1108.39,462.57 L1106.81,463.76 L1105.24,464.95 L1103.68,466.13 L1102.11,467.32 L1100.55,468.51 L1099.00,469.70 L1097.45,470.88 L1095.90,472.07 L1094.35,473.26 L1092.81,474.45 L1091.27,475.63 L1089.74,476.82 L1088.20,478.01 L1086.68,479.20 L1085.15,480.38 L1083.63,481.57 L1082.11,482.76 L1080.60,483.94 L1079.09,485.13 L1077.58,486.32 L1076.08,487.51 L1074.58,488.69 L1073.08,489.88 L1071.59,491.07 L1070.10,492.26 L1068.61,493.44 L1067.13,494.63 L1065.65,495.82 L1064.18,497.00 L1062.70,498.19 L1061.23,499.38 L1059.77,500.57 L1058.31,501.75 L1056.85,502.94 L1055.40,504.13 L1053.94,505.32 L1052.50,506.50 L1051.05,507.69 L1049.61,508.88 L1048.17,510.06 L1046.74,511.25 L1045.31,512.44 L1043.88,513.63 L1042.46,514.81 L1041.04,516.00 L1039.62,517.19 L1038.21,518.38 L1036.80,519.56 L1035.40,520.75 L1033.99,521.94 L1032.59,523.13 L1031.20,524.31 L1029.81,525.50 L1028.42,526.69 L1027.03,527.87 L1025.65,529.06 L1024.27,530.25 L1022.90,531.44 L1021.53,532.62 L1020.16,533.81 L1018.80,535.00 L1017.44,536.19 L1016.08,537.37 L1014.72,538.56 L1013.37,539.75 L1012.03,540.93 L1010.68,542.12 L1009.34,543.31 L1008.01,544.50 L1006.68,545.68 L1005.35,546.87 L1004.02,548.06 L1002.70,549.25 L1001.38,550.43 L1000.06,551.62 L998.75,552.81 L997.44,553.99 L996.14,555.18 L994.84,556.37 L993.54,557.56 L992.24,558.74 L990.95,559.93 L989.67,561.12 L988.38,562.31 L987.10,563.49 L985.82,564.68 L984.55,565.87 L983.28,567.06 L982.01,568.24 L980.75,569.43 L979.49,570.62 L978.23,571.80 L976.98,572.99 L975.73,574.18 L974.49,575.37 L973.24,576.55 L972.00,577.74 L970.77,578.93 L969.54,580.12 L968.31,581.30 L967.08,582.49 L965.86,583.68 L964.64,584.86 L963.43,586.05 L962.22,587.24 L961.01,588.43 L959.81,589.61 L958.61,590.80 L957.41,591.99 L956.21,593.18 L955.02,594.36 L953.84,595.55 L952.65,596.74 L951.47,597.92 L950.30,599.11 L949.12,600.30 L947.95,601.49 L946.79,602.67 L945.63,603.86 L944.47,605.05 L943.31,606.24 L942.16,607.42 L941.01,608.61 L939.86,609.80 L938.72,610.98 L937.58,612.17 L936.45,613.36 L935.32,614.55 L934.19,615.73 L933.07,616.92 L931.94,618.11 L930.83,619.30 L929.71,620.48 L928.60,621.67 L927.50,622.86 L926.39,624.05 L925.29,625.23 L924.19,626.42 L923.10,627.61 L922.01,628.79 L920.93,629.98 L919.84,631.17 L918.76,632.36 L917.69,633.54 L916.61,634.73 L915.55,635.92 L914.48,637.11 L913.42,638.29 L912.36,639.48 L911.30,640.67 L910.25,641.85 L909.20,643.04 L908.16,644.23 L907.12,645.42 L906.08,646.60 L905.04,647.79 L904.01,648.98 L902.99,650.17 L901.96,651.35 L900.94,652.54 L899.92,653.73 L898.91,654.91 L897.90,656.10 L896.89,657.29 L895.89,658.48 L894.89,659.66 L893.89,660.85 L892.90,662.04 L891.91,663.23 L890.93,664.41 L889.94,665.60 L888.96,666.79 L887.99,667.98 L887.02,669.16 L886.05,670.35 L885.08,671.54 L884.12,672.72 L883.16,673.91 L882.20,675.10 L881.25,676.29 L880.30,677.47 L879.36,678.66 L878.42,679.85 L877.48,681.04 L876.54,682.22 L875.61,683.41 L874.68,684.60 L873.76,685.78 L872.83,686.97 L871.91,688.16 L871.00,689.35 L870.09,690.53 L869.18,691.72 L868.27,692.91 L867.37,694.10 L866.47,695.28 L865.57,696.47 L864.68,697.66 L863.79,698.84 L862.90,700.03 L862.02,701.22 L861.14,702.41 L860.26,703.59 L859.39,704.78 L858.52,705.97 L857.65,707.16 L856.78,708.34 L855.92,709.53 L855.06,710.72 L854.21,711.91 L853.36,713.09 L852.51,714.28 L851.66,715.47 L850.82,716.65 L849.98,717.84 L849.14,719.03 L848.31,720.22 L847.48,721.40 L846.65,722.59 L845.82,723.78 L845.00,724.97 L844.18,726.15 L843.37,727.34 L842.55,728.53 L841.74,729.71 L840.94,730.90 L840.13,732.09 L839.33,733.28 L838.53,734.46 L837.74,735.65 L836.94,736.84 L836.15,738.03 L835.37,739.21 L834.58,740.40 L833.80,741.59 L833.02,742.77 L832.25,743.96 L831.48,745.15 L830.71,746.34 L829.94,747.52 L829.18,748.71 L828.41,749.90 L827.66,751.09 L826.90,752.27 L826.15,753.46 L825.40,754.65 L824.65,755.84 L823.91,757.02 L823.16,758.21 L822.42,759.40 L821.69,760.58 L820.95,761.77 L820.22,762.96 L819.50,764.15 L818.77,765.33 L818.05,766.52 L817.33,767.71 L816.61,768.90 L815.89,770.08 L815.18,771.27 L814.47,772.46 L813.77,773.64 L813.06,774.83 L812.36,776.02 L811.66,777.21 L810.96,778.39 L810.27,779.58 L809.58,780.77 L808.89,781.96 L808.20,783.14 L807.52,784.33 L806.84,785.52 L806.16,786.70 L805.48,787.89 L804.81,789.08 L804.14,790.27 L803.47,791.45 L802.81,792.64 L802.14,793.83 L801.48,795.02 L800.82,796.20 L800.17,797.39 L799.51,798.58 L798.86,799.77 L798.21,800.95 L797.56,802.14 L796.92,803.33 L796.28,804.51 L795.64,805.70 L795.00,806.89 L794.37,808.08 L793.73,809.26 L793.10,810.45 L792.48,811.64 L791.85,812.83 L791.23,814.01 L790.61,815.20 L789.99,816.39 L789.37,817.57 L788.76,818.76 L788.15,819.95 L787.54,821.14 L786.93,822.32 L786.33,823.51 L785.73,824.70 L785.13,825.89 L784.53,827.07 L783.93,828.26 L783.34,829.45 L782.75,830.63 L782.16,831.82 L781.57,833.01 L780.99,834.20 L780.40,835.38 L779.82,836.57 L779.24,837.76 L778.67,838.95 L778.09,840.13 L777.52,841.32 L776.95,842.51 L776.38,843.70 L775.82,844.88 L775.25,846.07 L774.69,847.26 L774.13,848.44 L773.58,849.63 L773.02,850.82 L772.47,852.01 L771.92,853.19 L771.37,854.38 L770.82,855.57 L770.27,856.76 L769.73,857.94 L769.19,859.13 L768.65,860.32 L768.11,861.50 L767.58,862.69 L767.04,863.88 L766.51,865.07 L765.98,866.25 L765.45,867.44 L764.93,868.63 L764.40,869.82 L763.88,871.00 L763.36,872.19 L762.84,873.38 L762.33,874.56 L761.81,875.75 L761.30,876.94 L760.79,878.13 L760.28,879.31 L759.77,880.50 L759.27,881.69 L758.77,882.88 L758.27,884.06 L757.77,885.25 L757.27,886.44 L756.77,887.62 L756.28,888.81 L755.79,890.00 L755.30,891.19 L754.81,892.37 L754.32,893.56 L753.84,894.75 L753.36,895.94 L752.88,897.12 L752.40,898.31 L751.92,899.50 L751.45,900.69 L750.97,901.87 L750.50,903.06 L750.03,904.25 L749.57,905.43 L749.10,906.62 L748.64,907.81 L748.17,909.00 L747.71,910.18 L747.26,911.37 L746.80,912.56 L746.35,913.75 L745.89,914.93 L745.44,916.12 L744.99,917.31 L744.55,918.49 L744.10,919.68 L743.66,920.87 L743.22,922.06 L742.78,923.24 L742.34,924.43 L741.90,925.62 L741.47,926.81 L741.04,927.99 L740.61,929.18 L740.18,930.37 L739.75,931.55 L739.33,932.74 L738.90,933.93 L738.48,935.12 L738.06,936.30 L737.65,937.49 L737.23,938.68 L736.82,939.87 L736.41,941.05 L736.00,942.24 L735.59,943.43 L735.18,944.62 L734.78,945.80 L734.37,946.99 L733.97,948.18 L733.57,949.36 L733.18,950.55 L732.78,951.74 L732.39,952.93 L732.00,954.11 L731.61,955.30 L731.22,956.49 L730.83,957.68 L730.45,958.86 L730.06,960.05 L729.68,961.24 L729.30,962.42 L728.93,963.61 L728.55,964.80 L728.18,965.99 L727.81,967.17 L727.44,968.36 L727.07,969.55 L726.70,970.74 L726.34,971.92 L725.97,973.11 L725.61,974.30 L725.25,975.48 L724.90,976.67 L724.54,977.86 L724.19,979.05 L723.84,980.23 L723.49,981.42 L723.14,982.61 L722.79,983.80 L722.45,984.98 L722.10,986.17 L721.76,987.36 L721.42,988.55 L721.09,989.73 L720.75,990.92 L720.42,992.11 L720.08,993.29 L719.75,994.48 L719.42,995.67 L719.10,996.86 L718.77,998.04 L718.45,999.23 L718.13,1000.42 L717.81,1001.61 L717.49,1002.79 L717.17,1003.98" stroke-dasharray="6 9.198" stroke-dashoffset="5.00"/>
<path d="M717.17,1003.98 L716.86,1005.18 L716.54,1006.38 L716.23,1007.58 L715.91,1008.78 L715.60,1009.98 L715.30,1011.18 L714.99,1012.38 L714.68,1013.57 L714.38,1014.77 L714.08,1015.97 L713.78,1017.17 L713.48,1018.37 L713.19,1019.57 L712.89,1020.77 L712.60,1021.97 L712.31,1023.17 L712.02,1024.37 L711.74,1025.57 L711.45,1026.77 L710.49,1027.97 L710.18,1029.17 L709.87,1030.37 L709.56,1031.56 L709.26,1032.76 L708.95,1033.96 L708.65,1035.16 L708.35,1036.36 L708.05,1037.56 L707.75,1038.76 L707.45,1039.96 L707.15,1041.16 L706.86,1042.36 L706.56,1043.56 L706.27,1044.76 L705.98,1045.96 L705.69,1047.16 L705.40,1048.36 L705.11,1049.55 L704.82,1050.75 L704.53,1051.95 L704.25,1053.15 L703.96,1054.35 L703.68,1055.55 L703.40,1056.75 L703.11,1057.95 L702.83,1059.15 L702.55,1060.35 L702.28,1061.55 L702.00,1062.75 L701.72,1063.95 L701.45,1065.15 L701.17,1066.35 L700.90,1067.55 L700.63,1068.74 L700.36,1069.94 L700.09,1071.14 L699.82,1072.34 L699.55,1073.54 L699.28,1074.74 L699.01,1075.94 L698.75,1077.14 L698.49,1078.34 L698.22,1079.54 L697.96,1080.74 L697.70,1081.94 L697.44,1083.14 L697.18,1084.34 L696.92,1085.54 L696.66,1086.73 L696.40,1087.93 L696.15,1089.13 L695.89,1090.33 L695.64,1091.53 L695.39,1092.73 L695.13,1093.93 L694.88,1095.13 L694.63,1096.33 L694.38,1097.53 L694.13,1098.73" stroke-dasharray="6 9.198" stroke-dashoffset="1535.19"/>
<path d="M694.13,1098.73 L693.88,1099.93 L693.64,1101.13 L693.39,1102.33 L693.14,1103.54 L692.90,1104.74 L692.65,1105.94 L692.41,1107.14 L692.17,1108.34 L691.92,1109.54 L691.68,1110.75 L691.44,1111.95 L691.20,1113.15 L690.96,1114.35 L690.73,1115.55 L690.49,1116.75 L690.25,1117.96 L690.02,1119.16 L689.78,1120.36 L689.55,1121.56 L689.31,1122.76 L689.08,1123.97 L688.85,1125.17 L688.62,1126.37 L688.39,1127.57 L688.16,1128.77 L687.93,1129.97 L687.70,1131.18 L687.47,1132.38 L687.24,1133.58 L687.02,1134.78 L686.79,1135.98 L686.56,1137.18 L686.34,1138.39 L686.12,1139.59 L685.89,1140.79 L685.67,1141.99 L685.45,1143.19 L685.23,1144.40 L685.00,1145.60 L684.78,1146.80 L684.56,1148.00 L684.35,1149.20 L684.13,1150.40 L683.91,1151.61 L683.69,1152.81 L683.47,1154.01 L683.26,1155.21 L683.04,1156.41 L682.83,1157.61 L682.61,1158.82 L682.40,1160.02 L682.18,1161.22 L681.97,1162.42 L681.76,1163.62 L681.55,1164.83 L681.33,1166.03 L681.12,1167.23 L680.91,1168.43 L680.70,1169.63 L680.49,1170.83 L680.28,1172.04 L680.08,1173.24 L679.87,1174.44 L679.66,1175.64 L679.45,1176.84 L679.25,1178.04 L679.04,1179.25 L678.83,1180.45 L678.63,1181.65 L678.42,1182.85 L678.22,1184.05 L678.01,1185.26 L677.81,1186.46 L677.60,1187.66 L677.40,1188.86 L677.20,1190.06 L677.00,1191.26 L676.79,1192.47 L676.59,1193.67 L676.39,1194.87 L676.19,1196.07 L675.99,1197.27 L675.79,1198.47 L675.59,1199.68 L675.39,1200.88 L675.19,1202.08 L674.99,1203.28 L674.79,1204.48 L674.59,1205.69 L674.39,1206.89 L674.20,1208.09 L674.00,1209.29 L673.80,1210.49 L673.60,1211.69 L673.41,1212.90 L673.21,1214.10 L673.01,1215.30 L672.82,1216.50 L672.62,1217.70 L672.42,1218.90 L672.23,1220.11 L672.03,1221.31 L671.84,1222.51 L671.64,1223.71 L671.45,1224.91 L671.25,1226.12 L671.06,1227.32 L670.86,1228.52 L670.67,1229.72 L670.48,1230.92 L670.28,1232.12 L670.09,1233.33 L669.90,1234.53 L669.70,1235.73 L669.51,1236.93 L669.32,1238.13 L669.12,1239.33 L668.93,1240.54 L668.74,1241.74 L668.54,1242.94 L668.35,1244.14 L668.16,1245.34 L667.97,1246.55 L667.77,1247.75 L667.58,1248.95 L667.39,1250.15 L667.20,1251.35 L667.00,1252.55 L666.81,1253.76 L666.62,1254.96 L666.43,1256.16 L666.24,1257.36 L666.04,1258.56 L665.85,1259.76 L665.66,1260.97 L665.47,1262.17" stroke-dasharray="6 9.198" stroke-dashoffset="1633.86"/>
<path d="M364.17,32.81 L366.33,40.19 L368.49,47.57 L370.64,54.95 L372.78,62.33 L374.92,69.71 L377.05,77.09 L379.18,84.47 L381.31,91.85 L383.42,99.23 L385.54,106.61 L387.64,113.99 L389.74,121.37 L391.84,128.75 L393.93,136.13 L396.02,143.51 L398.10,150.89 L400.17,158.27 L402.25,165.65 L404.31,173.03 L406.37,180.41 L408.43,187.79 L410.48,195.17 L412.52,202.55 L414.56,209.93 L416.60,217.31 L418.63,224.69 L420.66,232.07 L422.68,239.45 L424.69,246.83 L426.71,254.21 L428.71,261.59 L430.71,268.97 L432.71,276.35 L434.70,283.73 L436.69,291.11 L438.67,298.49 L440.65,305.87 L442.63,313.25 L444.60,320.63 L446.56,328.01 L448.52,335.39 L450.48,342.77 L452.43,350.15 L454.37,357.53 L456.31,364.91 L458.25,372.29 L460.19,379.67 L462.11,387.05 L464.04,394.43 L465.96,401.81 L467.87,409.19 L469.78,416.57 L471.69,423.95 L473.59,431.33 L475.49,438.71 L477.39,446.09 L479.28,453.47 L481.16,460.85 L483.04,468.23 L484.92,475.61 L486.79,482.99 L488.66,490.36 L490.53,497.74 L492.39,505.12 L494.24,512.50 L496.10,519.88 L497.94,527.26 L499.79,534.64 L501.63,542.02 L503.46,549.40 L505.30,556.78 L507.13,564.16 L508.95,571.54 L510.77,578.92 L512.59,586.30 L514.40,593.68 L516.21,601.06 L518.01,608.44 L519.81,615.82 L521.61,623.20 L523.40,630.58 L525.19,637.96 L526.98,645.34 L528.76,652.72 L530.54,660.10 L532.31,667.48 L534.08,674.86 L535.85,682.24 L537.61,689.62 L539.37,697.00 L541.13,704.38 L542.88,711.76 L544.63,719.14 L546.38,726.52 L548.12,733.90 L549.85,741.28 L551.59,748.66 L553.32,756.04 L555.05,763.42 L556.77,770.80 L558.49,778.18 L560.21,785.56 L561.92,792.94 L563.63,800.32 L565.34,807.70 L567.04,815.08 L568.74,822.46 L570.43,829.84 L572.13,837.22 L573.82,844.60 L575.50,851.98 L577.18,859.36 L578.86,866.74 L580.54,874.12 L582.21,881.50 L583.88,888.88 L585.55,896.26 L587.21,903.64 L588.87,911.02 L590.52,918.40 L592.18,925.78 L593.83,933.16 L595.47,940.54 L597.12,947.92 L598.76,955.30 L600.39,962.68 L602.03,970.06 L603.66,977.44 L605.28,984.82 L606.91,992.20 L608.53,999.58 L610.15,1006.96 L611.76,1014.34 L613.37,1021.72 L614.98,1029.10 L616.59,1036.48 L618.19,1043.86 L619.79,1051.23 L621.38,1058.61 L622.98,1065.99 L624.57,1073.37 L626.16,1080.75 L627.74,1088.13 L629.32,1095.51 L630.90,1102.89 L632.47,1110.27 L634.05,1117.65 L635.62,1125.03 L637.18,1132.41 L638.75,1139.79 L640.31,1147.17 L641.87,1154.55 L643.42,1161.93 L644.97,1169.31 L646.52,1176.69 L648.07,1184.07 L649.61,1191.45 L651.15,1198.83 L652.69,1206.21 L654.23,1213.59 L655.76,1220.97 L657.29,1228.35 L658.82,1235.73 L660.34,1243.11 L661.86,1250.49 L663.38,1257.87 L664.90,1265.25 L666.41,1272.63 L667.92,1280.01 L669.43,1287.39 L670.94,1294.77 L672.44,1302.15 L673.94,1309.53 L675.43,1316.91 L676.93,1324.29 L678.42,1331.67 L679.91,1339.05 L681.40,1346.43 L682.88,1353.81 L684.36,1361.19 L685.84,1368.57 L687.32,1375.95 L688.79,1383.33 L690.26,1390.71 L691.73,1398.09 L693.20,1405.47 L694.66,1412.85 L696.12,1420.23 L697.58,1427.61 L699.04,1434.99 L700.49,1442.37 L701.94,1449.75 L703.39,1457.13 L704.83,1464.51 L706.28,1471.89 L707.72,1479.27 L709.16,1486.65 L710.59,1494.03 L712.03,1501.41" stroke-dasharray="6.5 18.86" stroke-dashoffset="1.20"/>
</g>
<g stroke="#000" stroke-width="3.0" fill="none">
<path d="M316.5,1477.72H343.5 M316.5,1359.29H330.5 M316.5,1240.85H343.5 M316.5,1122.41H330.5 M316.5,1003.98H343.5 M316.5,885.55H330.5 M316.5,767.11H343.5 M316.5,648.68H330.5 M316.5,530.24H343.5 M316.5,411.81H330.5 M316.5,293.37H343.5 M316.5,174.94H330.5 M316.5,56.50H343.5 M1915.5,1433.90H1901.5 M1915.5,1315.46H1888.5 M1915.5,1197.03H1901.5 M1915.5,1078.59H1888.5 M1915.5,960.16H1901.5 M1915.5,841.72H1888.5 M1915.5,723.29H1901.5 M1915.5,604.85H1888.5 M1915.5,486.42H1901.5 M1915.5,367.98H1888.5 M1915.5,249.55H1901.5 M1915.5,131.11H1888.5 M558.83,1477.8V1463.8 M747.00,1477.8V1463.8 M900.75,1477.8V1463.8 M1030.74,1477.8V1463.8 M1143.34,1477.8V1463.8 M1242.66,1477.8V1463.8 M1331.51,1477.8V1450.8 M1242.66,56.5V70.5 M1331.51,56.5V83.5"/>
<rect x="316.5" y="56.5" width="1599.0" height="1421.3"/>
</g>
<rect x="544.9" y="56.5" width="603.5" height="211.5" fill="#fff" stroke="#000" stroke-width="3.0"/>
<g fill="none" stroke="#000" stroke-width="7.0">
<path d="M572,101.4H655" stroke-dasharray="6 9.198"/>
<path d="M572,162.4H664" stroke-dasharray="21 4.33"/>
<path d="M572,223.4H655" stroke-dasharray="6.5 18.86"/>
</g>
<rect x="1014.5" y="748.5" width="710.9" height="621.8" fill="#fff" stroke="none"/>
<g clip-path="url(#ci)" fill="none" stroke="#000" stroke-width="7.0" stroke-linecap="butt" stroke-linejoin="round">
<path d="M1616.44,742.28 L1615.84,743.08 L1615.24,743.87 L1614.63,744.66 L1614.03,745.46 L1613.44,746.25 L1612.84,747.04 L1612.25,747.84 L1611.65,748.63 L1611.06,749.43 L1610.47,750.22 L1609.89,751.01 L1609.30,751.81 L1608.72,752.60 L1608.13,753.40 L1607.55,754.19 L1606.98,754.98 L1606.40,755.78 L1605.82,756.57 L1605.25,757.36 L1604.68,758.16 L1604.11,758.95 L1603.54,759.75 L1602.97,760.54 L1602.41,761.33 L1601.85,762.13 L1601.28,762.92 L1600.72,763.71 L1600.17,764.51 L1599.61,765.30 L1599.06,766.10 L1598.50,766.89 L1597.95,767.68 L1597.40,768.48 L1596.86,769.27 L1596.31,770.06 L1595.77,770.86 L1595.22,771.65 L1594.68,772.45 L1594.14,773.24 L1593.61,774.03 L1593.07,774.83 L1592.54,775.62 L1592.00,776.41 L1591.47,777.21 L1590.95,778.00 L1590.42,778.80 L1589.89,779.59 L1589.37,780.38 L1588.85,781.18 L1588.33,781.97 L1587.81,782.77 L1587.29,783.56 L1586.78,784.35 L1586.26,785.15 L1585.75,785.94 L1585.24,786.73 L1584.73,787.53 L1584.23,788.32 L1583.72,789.12 L1583.22,789.91 L1582.72,790.70 L1582.22,791.50 L1581.72,792.29 L1581.22,793.08 L1580.73,793.88 L1580.23,794.67 L1579.74,795.47 L1579.25,796.26 L1578.76,797.05 L1578.28,797.85 L1577.79,798.64 L1577.31,799.43 L1576.83,800.23 L1576.35,801.02 L1575.87,801.82 L1575.39,802.61 L1574.92,803.40 L1574.44,804.20 L1573.97,804.99 L1573.50,805.78 L1573.03,806.58 L1572.57,807.37 L1572.10,808.17 L1571.64,808.96 L1571.18,809.75 L1570.72,810.55 L1570.26,811.34 L1569.80,812.14 L1569.35,812.93 L1568.89,813.72 L1568.44,814.52 L1567.99,815.31 L1567.54,816.10 L1567.09,816.90 L1566.65,817.69 L1566.21,818.49 L1565.76,819.28 L1565.32,820.07 L1564.88,820.87 L1564.45,821.66 L1564.01,822.45 L1563.58,823.25 L1563.15,824.04 L1562.72,824.84 L1562.29,825.63 L1561.86,826.42 L1561.43,827.22 L1561.01,828.01 L1560.59,828.80 L1560.17,829.60 L1559.75,830.39 L1559.33,831.19 L1558.91,831.98 L1558.50,832.77 L1558.09,833.57 L1557.67,834.36 L1557.27,835.16 L1556.86,835.95 L1556.45,836.74 L1556.05,837.54 L1555.64,838.33 L1555.24,839.12 L1554.84,839.92 L1554.44,840.71 L1554.05,841.51 L1553.65,842.30 L1553.26,843.09 L1552.87,843.89 L1552.48,844.68 L1552.09,845.47 L1551.70,846.27 L1551.31,847.06 L1550.93,847.86 L1550.55,848.65 L1550.17,849.44 L1549.79,850.24 L1549.41,851.03 L1549.03,851.82 L1548.66,852.62 L1548.29,853.41 L1547.92,854.21 L1547.55,855.00 L1547.18,855.79 L1546.81,856.59 L1546.45,857.38 L1546.08,858.17 L1545.72,858.97 L1545.36,859.76 L1545.00,860.56 L1544.65,861.35 L1544.29,862.14 L1543.94,862.94 L1543.58,863.73 L1543.23,864.53 L1542.88,865.32 L1542.54,866.11 L1542.19,866.91 L1541.84,867.70 L1541.50,868.49 L1541.16,869.29 L1540.82,870.08 L1540.48,870.88 L1540.15,871.67 L1539.81,872.46 L1539.48,873.26 L1539.14,874.05 L1538.81,874.84 L1538.48,875.64 L1538.16,876.43 L1537.83,877.23 L1537.51,878.02 L1537.18,878.81 L1536.86,879.61 L1536.54,880.40 L1536.22,881.19 L1535.91,881.99 L1535.59,882.78 L1535.28,883.58 L1534.97,884.37 L1534.66,885.16 L1534.35,885.96 L1534.04,886.75 L1533.73,887.55 L1533.43,888.34 L1533.12,889.13 L1532.82,889.93 L1532.52,890.72 L1532.22,891.51 L1531.93,892.31 L1531.63,893.10 L1531.34,893.90 L1531.05,894.69 L1530.76,895.48 L1530.47,896.28 L1530.18,897.07 L1529.89,897.86 L1529.61,898.66 L1529.32,899.45 L1529.04,900.25 L1528.76,901.04 L1528.48,901.83 L1528.21,902.63 L1527.93,903.42 L1527.66,904.21 L1527.38,905.01 L1527.11,905.80 L1526.84,906.60 L1526.57,907.39 L1526.31,908.18 L1526.04,908.98 L1525.78,909.77 L1525.52,910.56 L1525.25,911.36 L1525.00,912.15 L1524.74,912.95 L1524.48,913.74 L1524.23,914.53 L1523.97,915.33 L1523.72,916.12 L1523.47,916.92 L1523.22,917.71 L1522.97,918.50 L1522.73,919.30 L1522.48,920.09 L1522.24,920.88 L1522.00,921.68 L1521.76,922.47 L1521.52,923.27 L1521.28,924.06 L1521.05,924.85 L1520.81,925.65 L1520.58,926.44 L1520.35,927.23 L1520.12,928.03 L1519.89,928.82 L1519.66,929.62 L1519.44,930.41 L1519.21,931.20 L1518.99,932.00 L1518.77,932.79 L1518.55,933.58 L1518.33,934.38 L1518.12,935.17 L1517.90,935.97 L1517.69,936.76 L1517.47,937.55 L1517.26,938.35 L1517.05,939.14 L1516.85,939.94 L1516.64,940.73 L1516.43,941.52 L1516.23,942.32 L1516.03,943.11 L1515.83,943.90 L1515.63,944.70 L1515.43,945.49 L1515.23,946.29 L1515.04,947.08 L1514.84,947.87 L1514.65,948.67 L1514.46,949.46 L1514.27,950.25 L1514.08,951.05 L1513.90,951.84 L1513.71,952.64 L1513.53,953.43 L1513.35,954.22 L1513.16,955.02 L1512.98,955.81 L1512.81,956.60 L1512.63,957.40 L1512.45,958.19 L1512.28,958.99 L1512.11,959.78 L1511.94,960.57 L1511.77,961.37 L1511.60,962.16 L1511.43,962.95 L1511.27,963.75 L1511.10,964.54 L1510.94,965.34 L1510.78,966.13 L1510.62,966.92 L1510.46,967.72 L1510.30,968.51 L1510.15,969.31 L1510.00,970.10 L1509.84,970.89 L1509.69,971.69 L1509.54,972.48 L1509.39,973.27 L1509.25,974.07 L1509.10,974.86 L1508.95,975.66 L1508.81,976.45 L1508.67,977.24 L1508.53,978.04 L1508.39,978.83 L1508.25,979.62 L1508.12,980.42 L1507.98,981.21 L1507.85,982.01 L1507.72,982.80 L1507.59,983.59 L1507.46,984.39 L1507.33,985.18 L1507.20,985.97 L1507.08,986.77 L1506.95,987.56 L1506.83,988.36 L1506.71,989.15 L1506.59,989.94 L1506.47,990.74 L1506.36,991.53 L1506.24,992.32 L1506.13,993.12 L1506.01,993.91 L1505.90,994.71 L1505.79,995.50 L1505.68,996.29 L1505.57,997.09 L1505.47,997.88 L1505.36,998.68 L1505.26,999.47 L1505.16,1000.26 L1505.06,1001.06 L1504.96,1001.85 L1504.86,1002.64 L1504.76,1003.44 L1504.67,1004.23 L1504.57,1005.03 L1504.48,1005.82 L1504.39,1006.61 L1504.30,1007.41 L1504.21,1008.20 L1504.12,1008.99 L1504.04,1009.79 L1503.95,1010.58 L1503.87,1011.38 L1503.79,1012.17 L1503.71,1012.96 L1503.63,1013.76 L1503.55,1014.55 L1503.47,1015.34 L1503.40,1016.14 L1503.32,1016.93 L1503.25,1017.73 L1503.18,1018.52 L1503.11,1019.31 L1503.04,1020.11 L1502.97,1020.90 L1502.91,1021.70 L1502.84,1022.49 L1502.78,1023.28 L1502.71,1024.08 L1502.65,1024.87 L1502.59,1025.66 L1502.54,1026.46 L1502.48,1027.25 L1502.42,1028.05 L1502.37,1028.84 L1502.31,1029.63 L1502.26,1030.43 L1502.21,1031.22 L1502.16,1032.01 L1502.12,1032.81 L1502.07,1033.60 L1502.02,1034.40 L1501.98,1035.19 L1501.94,1035.98 L1501.89,1036.78 L1501.85,1037.57 L1501.82,1038.36 L1501.78,1039.16 L1501.74,1039.95 L1501.71,1040.75 L1501.67,1041.54 L1501.64,1042.33 L1501.61,1043.13 L1501.58,1043.92 L1501.55,1044.71 L1501.52,1045.51 L1501.50,1046.30 L1501.47,1047.10 L1501.45,1047.89 L1501.43,1048.68 L1501.40,1049.48 L1501.38,1050.27 L1501.37,1051.07 L1501.35,1051.86 L1501.33,1052.65 L1501.32,1053.45 L1501.30,1054.24 L1501.29,1055.03 L1501.28,1055.83 L1501.27,1056.62 L1501.26,1057.42 L1501.26,1058.21 L1501.25,1059.00 L1501.25,1059.80 L1501.24,1060.59 L1501.24,1061.38 L1501.24,1062.18 L1501.24,1062.97 L1501.24,1063.77 L1501.24,1064.56 L1501.25,1065.35 L1501.25,1066.15 L1501.26,1066.94 L1501.27,1067.73 L1501.28,1068.53 L1501.29,1069.32 L1501.30,1070.12 L1501.31,1070.91 L1501.32,1071.70 L1501.34,1072.50 L1501.36,1073.29 L1501.37,1074.09 L1501.39,1074.88 L1501.41,1075.67 L1501.43,1076.47 L1501.46,1077.26 L1501.48,1078.05 L1501.50,1078.85 L1501.53,1079.64 L1501.56,1080.44 L1501.59,1081.23 L1501.62,1082.02 L1501.65,1082.82 L1501.68,1083.61 L1501.71,1084.40 L1501.75,1085.20 L1501.78,1085.99 L1501.82,1086.79 L1501.86,1087.58 L1501.90,1088.37 L1501.94,1089.17 L1501.98,1089.96 L1502.02,1090.75 L1502.07,1091.55 L1502.11,1092.34 L1502.16,1093.14 L1502.21,1093.93 L1502.26,1094.72 L1502.31,1095.52 L1502.36,1096.31 L1502.41,1097.10 L1502.47,1097.90 L1502.52,1098.69 L1502.58,1099.49 L1502.64,1100.28 L1502.69,1101.07 L1502.75,1101.87 L1502.81,1102.66 L1502.88,1103.46 L1502.94,1104.25 L1503.00,1105.04 L1503.07,1105.84 L1503.14,1106.63 L1503.21,1107.42 L1503.27,1108.22 L1503.35,1109.01 L1503.42,1109.81 L1503.49,1110.60 L1503.56,1111.39 L1503.64,1112.19 L1503.71,1112.98 L1503.79,1113.77 L1503.87,1114.57 L1503.95,1115.36 L1504.03,1116.16 L1504.11,1116.95 L1504.20,1117.74 L1504.28,1118.54 L1504.37,1119.33 L1504.45,1120.12 L1504.54,1120.92 L1504.63,1121.71 L1504.72,1122.51 L1504.81,1123.30 L1504.90,1124.09 L1505.00,1124.89 L1505.09,1125.68 L1505.19,1126.48 L1505.29,1127.27 L1505.38,1128.06 L1505.48,1128.86 L1505.58,1129.65 L1505.69,1130.44 L1505.79,1131.24 L1505.89,1132.03 L1506.00,1132.83 L1506.10,1133.62 L1506.21,1134.41 L1506.32,1135.21 L1506.43,1136.00 L1506.54,1136.79 L1506.65,1137.59 L1506.76,1138.38 L1506.88,1139.18 L1506.99,1139.97 L1507.11,1140.76 L1507.23,1141.56 L1507.34,1142.35 L1507.46,1143.14 L1507.59,1143.94 L1507.71,1144.73 L1507.83,1145.53 L1507.95,1146.32 L1508.08,1147.11 L1508.21,1147.91 L1508.33,1148.70 L1508.46,1149.49 L1508.59,1150.29 L1508.72,1151.08 L1508.85,1151.88 L1508.99,1152.67 L1509.12,1153.46 L1509.26,1154.26 L1509.39,1155.05 L1509.53,1155.85 L1509.67,1156.64 L1509.81,1157.43 L1509.95,1158.23 L1510.09,1159.02 L1510.23,1159.81 L1510.38,1160.61 L1510.52,1161.40 L1510.67,1162.20 L1510.82,1162.99 L1510.96,1163.78 L1511.11,1164.58 L1511.26,1165.37 L1511.42,1166.16 L1511.57,1166.96 L1511.72,1167.75 L1511.88,1168.55 L1512.03,1169.34 L1512.19,1170.13 L1512.35,1170.93 L1512.51,1171.72 L1512.67,1172.51 L1512.83,1173.31 L1512.99,1174.10 L1513.15,1174.90 L1513.32,1175.69 L1513.48,1176.48 L1513.65,1177.28 L1513.82,1178.07 L1513.99,1178.86 L1514.16,1179.66 L1514.33,1180.45 L1514.50,1181.25 L1514.67,1182.04 L1514.85,1182.83 L1515.02,1183.63 L1515.20,1184.42 L1515.37,1185.22 L1515.55,1186.01 L1515.73,1186.80 L1515.91,1187.60 L1516.09,1188.39 L1516.28,1189.18 L1516.46,1189.98 L1516.64,1190.77 L1516.83,1191.57 L1517.01,1192.36 L1517.20,1193.15 L1517.39,1193.95 L1517.58,1194.74 L1517.77,1195.53 L1517.96,1196.33 L1518.16,1197.12 L1518.35,1197.92 L1518.54,1198.71 L1518.74,1199.50 L1518.94,1200.30 L1519.13,1201.09 L1519.33,1201.88 L1519.53,1202.68 L1519.73,1203.47 L1519.94,1204.27 L1520.14,1205.06 L1520.34,1205.85 L1520.55,1206.65 L1520.75,1207.44 L1520.96,1208.24 L1521.17,1209.03 L1521.38,1209.82 L1521.59,1210.62 L1521.80,1211.41 L1522.01,1212.20 L1522.23,1213.00 L1522.44,1213.79 L1522.65,1214.59 L1522.87,1215.38 L1523.09,1216.17 L1523.31,1216.97 L1523.53,1217.76 L1523.75,1218.55 L1523.97,1219.35 L1524.19,1220.14 L1524.41,1220.94 L1524.64,1221.73 L1524.86,1222.52 L1525.09,1223.32 L1525.31,1224.11 L1525.54,1224.90 L1525.77,1225.70 L1526.00,1226.49 L1526.23,1227.29 L1526.46,1228.08 L1526.70,1228.87 L1526.93,1229.67 L1527.17,1230.46 L1527.40,1231.25 L1527.64,1232.05 L1527.88,1232.84 L1528.12,1233.64 L1528.36,1234.43 L1528.60,1235.22 L1528.84,1236.02 L1529.08,1236.81 L1529.32,1237.61 L1529.57,1238.40 L1529.81,1239.19 L1530.06,1239.99 L1530.31,1240.78 L1530.56,1241.57 L1530.81,1242.37 L1531.06,1243.16 L1531.31,1243.96 L1531.56,1244.75 L1531.81,1245.54 L1532.07,1246.34 L1532.32,1247.13 L1532.58,1247.92 L1532.84,1248.72 L1533.10,1249.51 L1533.35,1250.31 L1533.61,1251.10 L1533.88,1251.89 L1534.14,1252.69 L1534.40,1253.48 L1534.66,1254.27 L1534.93,1255.07 L1535.19,1255.86 L1535.46,1256.66 L1535.73,1257.45 L1536.00,1258.24 L1536.27,1259.04 L1536.54,1259.83 L1536.81,1260.63 L1537.08,1261.42 L1537.35,1262.21 L1537.63,1263.01 L1537.90,1263.80 L1538.18,1264.59 L1538.45,1265.39 L1538.73,1266.18 L1539.01,1266.98 L1539.29,1267.77 L1539.57,1268.56 L1539.85,1269.36 L1540.13,1270.15 L1540.42,1270.94 L1540.70,1271.74 L1540.99,1272.53 L1541.27,1273.33 L1541.56,1274.12 L1541.85,1274.91 L1542.14,1275.71 L1542.42,1276.50 L1542.72,1277.29 L1543.01,1278.09 L1543.30,1278.88 L1543.59,1279.68 L1543.89,1280.47 L1544.18,1281.26 L1544.48,1282.06 L1544.77,1282.85 L1545.07,1283.64 L1545.37,1284.44 L1545.67,1285.23 L1545.97,1286.03 L1546.27,1286.82 L1546.57,1287.61 L1546.88,1288.41 L1547.18,1289.20 L1547.48,1290.00 L1547.79,1290.79 L1548.10,1291.58 L1548.40,1292.38 L1548.71,1293.17 L1549.02,1293.96 L1549.33,1294.76 L1549.64,1295.55 L1549.95,1296.35 L1550.27,1297.14 L1550.58,1297.93 L1550.89,1298.73 L1551.21,1299.52 L1551.53,1300.31 L1551.84,1301.11 L1552.16,1301.90 L1552.48,1302.70 L1552.80,1303.49 L1553.12,1304.28 L1553.44,1305.08 L1553.76,1305.87 L1554.09,1306.66 L1554.41,1307.46 L1554.73,1308.25 L1555.06,1309.05 L1555.39,1309.84 L1555.71,1310.63 L1556.04,1311.43 L1556.37,1312.22 L1556.70,1313.02 L1557.03,1313.81 L1557.36,1314.60 L1557.70,1315.40 L1558.03,1316.19 L1558.36,1316.98 L1558.70,1317.78 L1559.03,1318.57 L1559.37,1319.37 L1559.71,1320.16 L1560.05,1320.95 L1560.38,1321.75 L1560.72,1322.54 L1561.07,1323.33 L1561.41,1324.13 L1561.75,1324.92 L1562.09,1325.72 L1562.44,1326.51 L1562.78,1327.30 L1563.13,1328.10 L1563.47,1328.89 L1563.82,1329.68 L1564.17,1330.48 L1564.52,1331.27 L1564.87,1332.07 L1565.22,1332.86 L1565.57,1333.65 L1565.92,1334.45 L1566.27,1335.24 L1566.63,1336.03 L1566.98,1336.83 L1567.34,1337.62 L1567.70,1338.42 L1568.05,1339.21 L1568.41,1340.00 L1568.77,1340.80 L1569.13,1341.59 L1569.49,1342.39 L1569.85,1343.18 L1570.21,1343.97 L1570.57,1344.77 L1570.94,1345.56 L1571.30,1346.35 L1571.67,1347.15 L1572.03,1347.94 L1572.40,1348.74 L1572.77,1349.53 L1573.13,1350.32 L1573.50,1351.12 L1573.87,1351.91 L1574.24,1352.70 L1574.62,1353.50 L1574.99,1354.29 L1575.36,1355.09 L1575.73,1355.88 L1576.11,1356.67 L1576.48,1357.47 L1576.86,1358.26 L1577.24,1359.05 L1577.61,1359.85 L1577.99,1360.64 L1578.37,1361.44 L1578.75,1362.23 L1579.13,1363.02 L1579.51,1363.82 L1579.90,1364.61 L1580.28,1365.40 L1580.66,1366.20 L1581.05,1366.99 L1581.43,1367.79 L1581.82,1368.58 L1582.20,1369.37 L1582.59,1370.17 L1582.98,1370.96 L1583.37,1371.76 L1583.76,1372.55 L1584.15,1373.34 L1584.54,1374.14 L1584.93,1374.93 L1585.33,1375.72 L1585.72,1376.52" stroke-dasharray="21 4.33" stroke-dashoffset="-8.30"/>
<path d="M1616.17,742.28 L1615.71,742.85 L1615.25,743.41 L1614.80,743.97 L1614.34,744.54 L1613.88,745.10 L1613.43,745.67 L1612.97,746.23 L1612.52,746.80 L1612.07,747.36 L1611.62,747.92 L1611.16,748.49 L1610.71,749.05 L1610.26,749.62 L1609.82,750.18 L1609.37,750.74 L1608.92,751.31 L1608.47,751.87 L1608.03,752.44 L1607.58,753.00 L1607.14,753.57 L1606.69,754.13 L1606.25,754.69 L1605.81,755.26 L1605.37,755.82 L1604.92,756.39 L1604.48,756.95 L1604.04,757.52 L1603.61,758.08 L1603.17,758.64 L1602.73,759.21 L1602.29,759.77 L1601.86,760.34 L1601.42,760.90 L1600.99,761.46 L1600.55,762.03 L1600.12,762.59 L1599.69,763.16 L1599.26,763.72 L1598.83,764.29 L1598.40,764.85 L1597.97,765.41 L1597.54,765.98 L1597.11,766.54 L1596.68,767.11 L1596.25,767.67 L1595.83,768.23 L1595.40,768.80 L1594.98,769.36 L1594.55,769.93 L1594.13,770.49 L1593.71,771.06 L1593.29,771.62 L1592.86,772.18 L1592.44,772.75 L1592.02,773.31 L1591.60,773.88 L1591.18,774.44 L1590.77,775.00 L1590.35,775.57 L1589.93,776.13 L1589.52,776.70 L1589.10,777.26 L1588.69,777.83 L1588.27,778.39 L1587.86,778.95 L1587.45,779.52 L1587.03,780.08 L1586.62,780.65 L1586.21,781.21 L1585.80,781.78 L1585.39,782.34 L1584.98,782.90 L1584.57,783.47 L1584.17,784.03 L1583.76,784.60 L1583.35,785.16 L1582.95,785.72 L1582.54,786.29 L1582.14,786.85 L1581.73,787.42 L1581.33,787.98 L1580.93,788.55 L1580.53,789.11 L1580.13,789.67 L1579.73,790.24 L1579.33,790.80 L1578.93,791.37 L1578.53,791.93 L1578.13,792.49 L1577.73,793.06 L1577.33,793.62 L1576.94,794.19 L1576.54,794.75 L1576.15,795.32 L1575.75,795.88 L1575.36,796.44 L1574.97,797.01 L1574.57,797.57 L1574.18,798.14 L1573.79,798.70 L1573.40,799.26 L1573.01,799.83 L1572.62,800.39 L1572.23,800.96 L1571.84,801.52 L1571.45,802.09 L1571.07,802.65 L1570.68,803.21 L1570.29,803.78 L1569.91,804.34 L1569.52,804.91 L1569.14,805.47 L1568.76,806.04 L1568.37,806.60 L1567.99,807.16 L1567.61,807.73 L1567.23,808.29 L1566.84,808.86 L1566.46,809.42 L1566.08,809.98 L1565.71,810.55 L1565.33,811.11 L1564.95,811.68 L1564.57,812.24 L1564.19,812.81 L1563.82,813.37 L1563.44,813.93 L1563.07,814.50 L1562.69,815.06 L1562.32,815.63 L1561.94,816.19 L1561.57,816.75 L1561.20,817.32 L1560.83,817.88 L1560.46,818.45 L1560.08,819.01 L1559.71,819.58 L1559.34,820.14 L1558.97,820.70 L1558.61,821.27 L1558.24,821.83 L1557.87,822.40 L1557.50,822.96 L1557.14,823.52 L1556.77,824.09 L1556.40,824.65 L1556.04,825.22 L1555.68,825.78 L1555.31,826.35 L1554.95,826.91 L1554.58,827.47 L1554.22,828.04 L1553.86,828.60 L1553.50,829.17 L1553.14,829.73 L1552.78,830.30 L1552.42,830.86 L1552.06,831.42 L1551.70,831.99 L1551.34,832.55 L1550.98,833.12 L1550.63,833.68 L1550.27,834.24 L1549.91,834.81 L1549.56,835.37 L1549.20,835.94 L1548.85,836.50 L1548.49,837.07 L1548.14,837.63 L1547.79,838.19 L1547.43,838.76 L1547.08,839.32 L1546.73,839.89 L1546.38,840.45 L1546.03,841.01 L1545.67,841.58 L1545.32,842.14 L1544.98,842.71 L1544.63,843.27 L1544.28,843.84 L1543.93,844.40 L1543.58,844.96 L1543.23,845.53 L1542.89,846.09 L1542.54,846.66 L1542.20,847.22 L1541.85,847.79 L1541.51,848.35 L1541.16,848.91 L1540.82,849.48 L1540.47,850.04 L1540.13,850.61 L1539.79,851.17 L1539.45,851.73 L1539.10,852.30 L1538.76,852.86 L1538.42,853.43 L1538.08,853.99 L1537.74,854.56 L1537.40,855.12 L1537.06,855.68 L1536.72,856.25 L1536.39,856.81 L1536.05,857.38 L1535.71,857.94 L1535.37,858.50 L1535.04,859.07 L1534.70,859.63 L1534.37,860.20 L1534.03,860.76 L1533.70,861.33 L1533.36,861.89 L1533.03,862.45 L1532.69,863.02 L1532.36,863.58 L1532.03,864.15 L1531.70,864.71 L1531.36,865.27 L1531.03,865.84 L1530.70,866.40 L1530.37,866.97 L1530.04,867.53 L1529.71,868.10 L1529.38,868.66 L1529.05,869.22 L1528.72,869.79 L1528.39,870.35 L1528.07,870.92 L1527.74,871.48 L1527.41,872.05 L1527.09,872.61 L1526.76,873.17 L1526.43,873.74 L1526.11,874.30 L1525.78,874.87 L1525.46,875.43 L1525.13,875.99 L1524.81,876.56 L1524.49,877.12 L1524.16,877.69 L1523.84,878.25 L1523.52,878.82 L1523.19,879.38 L1522.87,879.94 L1522.55,880.51 L1522.23,881.07 L1521.91,881.64 L1521.59,882.20 L1521.27,882.76 L1520.95,883.33 L1520.63,883.89 L1520.31,884.46 L1519.99,885.02 L1519.67,885.59 L1519.36,886.15 L1519.04,886.71 L1518.72,887.28 L1518.40,887.84 L1518.09,888.41 L1517.77,888.97 L1517.46,889.53 L1517.14,890.10 L1516.83,890.66 L1516.51,891.23 L1516.20,891.79 L1515.88,892.36 L1515.57,892.92 L1515.26,893.48 L1514.94,894.05 L1514.63,894.61 L1514.32,895.18 L1514.00,895.74 L1513.69,896.31 L1513.38,896.87 L1513.07,897.43 L1512.76,898.00 L1512.45,898.56 L1512.14,899.13 L1511.83,899.69 L1511.52,900.25 L1511.21,900.82 L1510.90,901.38 L1510.59,901.95 L1510.28,902.51 L1509.98,903.08 L1509.67,903.64 L1509.36,904.20 L1509.05,904.77 L1508.75,905.33 L1508.44,905.90 L1508.13,906.46 L1507.83,907.02 L1507.52,907.59 L1507.22,908.15 L1506.91,908.72 L1506.61,909.28 L1506.30,909.85 L1506.00,910.41 L1505.69,910.97 L1505.39,911.54 L1505.09,912.10 L1504.78,912.67 L1504.48,913.23 L1504.18,913.79 L1503.87,914.36 L1503.57,914.92 L1503.27,915.49 L1502.97,916.05 L1502.67,916.62 L1502.37,917.18 L1502.07,917.74 L1501.77,918.31 L1501.46,918.87 L1501.16,919.44 L1500.87,920.00 L1500.57,920.57 L1500.27,921.13 L1499.97,921.69 L1499.67,922.26 L1499.37,922.82 L1499.07,923.39 L1498.77,923.95 L1498.48,924.51 L1498.18,925.08 L1497.88,925.64 L1497.58,926.21 L1497.29,926.77 L1496.99,927.34 L1496.69,927.90 L1496.40,928.46 L1496.10,929.03 L1495.81,929.59 L1495.51,930.16 L1495.22,930.72 L1494.92,931.28 L1494.63,931.85 L1494.33,932.41 L1494.04,932.98 L1493.74,933.54 L1493.45,934.11 L1493.15,934.67 L1492.86,935.23 L1492.57,935.80 L1492.27,936.36 L1491.98,936.93 L1491.69,937.49 L1491.40,938.06 L1491.10,938.62 L1490.81,939.18 L1490.52,939.75 L1490.23,940.31 L1489.94,940.88 L1489.65,941.44 L1489.35,942.00 L1489.06,942.57 L1488.77,943.13 L1488.48,943.70 L1488.19,944.26 L1487.90,944.83 L1487.61,945.39 L1487.32,945.95 L1487.03,946.52 L1486.74,947.08 L1486.45,947.65 L1486.16,948.21 L1485.87,948.77 L1485.59,949.34 L1485.30,949.90 L1485.01,950.47 L1484.72,951.03 L1484.43,951.60 L1484.14,952.16 L1483.86,952.72 L1483.57,953.29 L1483.28,953.85 L1482.99,954.42 L1482.71,954.98 L1482.42,955.54 L1482.13,956.11 L1481.85,956.67 L1481.56,957.24 L1481.27,957.80 L1480.99,958.37 L1480.70,958.93 L1480.41,959.49 L1480.13,960.06 L1479.84,960.62 L1479.56,961.19 L1479.27,961.75 L1478.99,962.32 L1478.70,962.88 L1478.42,963.44 L1478.13,964.01 L1477.85,964.57 L1477.56,965.14 L1477.28,965.70 L1476.99,966.26 L1476.71,966.83 L1476.42,967.39 L1476.14,967.96 L1475.85,968.52 L1475.57,969.09 L1475.29,969.65 L1475.00,970.21 L1474.72,970.78 L1474.44,971.34 L1474.15,971.91 L1473.87,972.47 L1473.59,973.03 L1473.30,973.60 L1473.02,974.16 L1472.74,974.73 L1472.45,975.29 L1472.17,975.86 L1471.89,976.42 L1471.61,976.98 L1471.32,977.55 L1471.04,978.11 L1470.76,978.68 L1470.48,979.24 L1470.20,979.80 L1469.91,980.37 L1469.63,980.93 L1469.35,981.50 L1469.07,982.06 L1468.79,982.63 L1468.50,983.19 L1468.22,983.75 L1467.94,984.32 L1467.66,984.88 L1467.38,985.45 L1467.10,986.01 L1466.82,986.58 L1466.54,987.14 L1466.25,987.70 L1465.97,988.27 L1465.69,988.83 L1465.41,989.40 L1465.13,989.96 L1464.85,990.52 L1464.57,991.09 L1464.29,991.65 L1464.01,992.22 L1463.73,992.78 L1463.45,993.35 L1463.17,993.91 L1462.89,994.47 L1462.60,995.04 L1462.32,995.60 L1462.04,996.17 L1461.76,996.73 L1461.48,997.29 L1461.20,997.86 L1460.92,998.42 L1460.64,998.99 L1460.36,999.55 L1460.08,1000.12 L1459.80,1000.68 L1459.52,1001.24 L1459.24,1001.81 L1458.96,1002.37 L1458.68,1002.94 L1458.40,1003.50 L1458.12,1004.06 L1457.84,1004.63 L1457.56,1005.19 L1457.28,1005.76 L1457.00,1006.32 L1456.72,1006.89 L1456.44,1007.45 L1456.16,1008.01 L1455.88,1008.58 L1455.60,1009.14 L1455.32,1009.71 L1455.04,1010.27 L1454.76,1010.84 L1454.48,1011.40 L1454.20,1011.96 L1453.92,1012.53 L1453.64,1013.09 L1453.36,1013.66 L1453.08,1014.22 L1452.80,1014.78 L1452.52,1015.35 L1452.24,1015.91 L1451.96,1016.48 L1451.68,1017.04 L1451.40,1017.61 L1451.12,1018.17 L1450.84,1018.73 L1450.56,1019.30 L1450.28,1019.86 L1450.00,1020.43 L1449.72,1020.99 L1449.44,1021.55 L1449.16,1022.12 L1448.88,1022.68 L1448.60,1023.25 L1448.32,1023.81 L1448.03,1024.38 L1447.75,1024.94 L1447.47,1025.50 L1447.19,1026.07 L1446.91,1026.63 L1446.63,1027.20 L1446.35,1027.76 L1446.07,1028.33 L1445.79,1028.89 L1445.51,1029.45 L1445.22,1030.02 L1444.94,1030.58 L1444.66,1031.15 L1444.38,1031.71 L1444.10,1032.27 L1443.82,1032.84 L1443.54,1033.40 L1443.25,1033.97 L1442.97,1034.53 L1442.69,1035.10 L1442.41,1035.66 L1442.13,1036.22 L1441.84,1036.79 L1441.56,1037.35 L1441.28,1037.92 L1441.00,1038.48 L1440.72,1039.04 L1440.43,1039.61 L1440.15,1040.17 L1439.87,1040.74 L1439.59,1041.30 L1439.30,1041.87 L1439.02,1042.43 L1438.74,1042.99 L1438.45,1043.56 L1438.17,1044.12 L1437.89,1044.69 L1437.60,1045.25 L1437.32,1045.81 L1437.04,1046.38 L1436.75,1046.94 L1436.47,1047.51 L1436.18,1048.07 L1435.90,1048.64 L1435.62,1049.20 L1435.33,1049.76 L1435.05,1050.33 L1434.76,1050.89 L1434.48,1051.46 L1434.19,1052.02 L1433.91,1052.59 L1433.62,1053.15 L1433.34,1053.71 L1433.05,1054.28 L1432.77,1054.84 L1432.48,1055.41 L1432.19,1055.97 L1431.91,1056.53 L1431.62,1057.10 L1431.34,1057.66 L1431.05,1058.23 L1430.76,1058.79 L1430.48,1059.36 L1430.19,1059.92 L1429.90,1060.48 L1429.62,1061.05 L1429.33,1061.61 L1429.04,1062.18 L1428.75,1062.74 L1428.47,1063.30 L1428.18,1063.87 L1427.89,1064.43 L1427.60,1065.00 L1427.31,1065.56 L1427.03,1066.13 L1426.74,1066.69 L1426.45,1067.25 L1426.16,1067.82 L1425.87,1068.38 L1425.58,1068.95 L1425.29,1069.51 L1425.00,1070.07 L1424.71,1070.64 L1424.42,1071.20 L1424.13,1071.77 L1423.84,1072.33 L1423.55,1072.90 L1423.26,1073.46 L1422.97,1074.02 L1422.68,1074.59 L1422.39,1075.15 L1422.09,1075.72 L1421.80,1076.28 L1421.51,1076.85 L1421.22,1077.41 L1420.93,1077.97 L1420.63,1078.54 L1420.34,1079.10 L1420.05,1079.67 L1419.76,1080.23" stroke-dasharray="6 9.198" stroke-dashoffset="8.00"/>
<path d="M1195.11,732.96 L1199.30,739.55 L1203.47,746.14 L1207.64,752.74 L1211.81,759.33 L1215.97,765.93 L1220.12,772.52 L1224.27,779.12 L1228.42,785.71 L1232.55,792.31 L1236.69,798.90 L1240.81,805.50 L1244.94,812.09 L1249.05,818.69 L1253.16,825.28 L1257.27,831.88 L1261.37,838.47 L1265.47,845.07 L1269.56,851.66 L1273.64,858.26 L1277.72,864.85 L1281.80,871.45 L1285.87,878.04 L1289.93,884.64 L1293.99,891.23 L1298.05,897.83 L1302.09,904.42 L1306.14,911.02 L1310.18,917.61 L1314.21,924.21 L1318.24,930.80 L1322.26,937.40 L1326.28,943.99 L1330.29,950.59 L1334.30,957.18 L1338.30,963.77 L1342.30,970.37 L1346.30,976.96 L1350.28,983.56 L1354.27,990.15 L1358.25,996.75 L1362.22,1003.34 L1366.19,1009.94 L1370.15,1016.53 L1374.11,1023.13 L1378.06,1029.72 L1382.01,1036.32 L1385.95,1042.91 L1389.89,1049.51 L1393.83,1056.10 L1397.76,1062.70 L1401.68,1069.29 L1405.60,1075.89 L1409.51,1082.48 L1413.42,1089.08 L1417.33,1095.67 L1421.23,1102.27 L1425.12,1108.86 L1429.01,1115.46 L1432.90,1122.05 L1436.78,1128.65 L1440.66,1135.24 L1444.53,1141.84 L1448.40,1148.43 L1452.26,1155.03 L1456.12,1161.62 L1459.97,1168.21 L1463.82,1174.81 L1467.66,1181.40 L1471.50,1188.00 L1475.34,1194.59 L1479.17,1201.19 L1482.99,1207.78 L1486.81,1214.38 L1490.63,1220.97 L1494.44,1227.57 L1498.25,1234.16 L1502.05,1240.76 L1505.85,1247.35 L1509.64,1253.95 L1513.43,1260.54 L1517.21,1267.14 L1520.99,1273.73 L1524.77,1280.33 L1528.54,1286.92 L1532.31,1293.52 L1536.07,1300.11 L1539.83,1306.71 L1543.58,1313.30 L1547.33,1319.90 L1551.07,1326.49 L1554.81,1333.09 L1558.55,1339.68 L1562.28,1346.28 L1566.00,1352.87 L1569.73,1359.47 L1573.45,1366.06 L1577.16,1372.66 L1580.87,1379.25 L1584.57,1385.85" stroke-dasharray="6.5 18.86" stroke-dashoffset="8.00"/>
</g>
<g stroke="#000" stroke-width="2.8" fill="none">
<path d="M1014.5,1370.30H1041.5 M1725.4,1370.30H1698.4 M1014.5,1339.21H1028.5 M1725.4,1339.21H1711.4 M1014.5,1308.12H1041.5 M1725.4,1308.12H1698.4 M1014.5,1277.03H1028.5 M1725.4,1277.03H1711.4 M1014.5,1245.94H1041.5 M1725.4,1245.94H1698.4 M1014.5,1214.85H1028.5 M1725.4,1214.85H1711.4 M1014.5,1183.76H1041.5 M1725.4,1183.76H1698.4 M1014.5,1152.67H1028.5 M1725.4,1152.67H1711.4 M1014.5,1121.58H1041.5 M1725.4,1121.58H1698.4 M1014.5,1090.49H1028.5 M1725.4,1090.49H1711.4 M1014.5,1059.40H1041.5 M1725.4,1059.40H1698.4 M1014.5,1028.31H1028.5 M1725.4,1028.31H1711.4 M1014.5,997.22H1041.5 M1725.4,997.22H1698.4 M1014.5,966.13H1028.5 M1725.4,966.13H1711.4 M1014.5,935.04H1041.5 M1725.4,935.04H1698.4 M1014.5,903.95H1028.5 M1725.4,903.95H1711.4 M1014.5,872.86H1041.5 M1725.4,872.86H1698.4 M1014.5,841.77H1028.5 M1725.4,841.77H1711.4 M1014.5,810.68H1041.5 M1725.4,810.68H1698.4 M1014.5,779.59H1028.5 M1725.4,779.59H1711.4 M1014.5,748.50H1041.5 M1725.4,748.50H1698.4"/>
<rect x="1014.5" y="748.5" width="710.9" height="621.8"/>
</g>
<g>
<text x="272.5" y="1502.17" font-size="73.5" text-anchor="end" textLength="107.1" lengthAdjust="spacingAndGlyphs">670</text>
<text x="272.5" y="1265.30" font-size="73.5" text-anchor="end" textLength="107.1" lengthAdjust="spacingAndGlyphs">680</text>
<text x="272.5" y="1028.43" font-size="73.5" text-anchor="end" textLength="107.1" lengthAdjust="spacingAndGlyphs">690</text>
<text x="272.5" y="791.56" font-size="73.5" text-anchor="end" textLength="107.1" lengthAdjust="spacingAndGlyphs">700</text>
<text x="272.5" y="554.69" font-size="73.5" text-anchor="end" textLength="107.1" lengthAdjust="spacingAndGlyphs">710</text>
<text x="272.5" y="317.82" font-size="73.5" text-anchor="end" textLength="107.1" lengthAdjust="spacingAndGlyphs">720</text>
<text x="272.5" y="80.95" font-size="73.5" text-anchor="end" textLength="107.1" lengthAdjust="spacingAndGlyphs">730</text>
<text x="1959.5" y="1339.91" font-size="73.5" text-anchor="start" textLength="107.1" lengthAdjust="spacingAndGlyphs">950</text>
<text x="1959.5" y="1103.04" font-size="73.5" text-anchor="start" textLength="107.1" lengthAdjust="spacingAndGlyphs">960</text>
<text x="1959.5" y="866.17" font-size="73.5" text-anchor="start" textLength="107.1" lengthAdjust="spacingAndGlyphs">970</text>
<text x="1959.5" y="629.30" font-size="73.5" text-anchor="start" textLength="107.1" lengthAdjust="spacingAndGlyphs">980</text>
<text x="1959.5" y="392.43" font-size="73.5" text-anchor="start" textLength="107.1" lengthAdjust="spacingAndGlyphs">990</text>
<text x="1959.5" y="155.56" font-size="73.5" text-anchor="start" textLength="142.8" lengthAdjust="spacingAndGlyphs">1000</text>
<text x="971.0" y="1394.75" font-size="73.5" text-anchor="end" textLength="107.1" lengthAdjust="spacingAndGlyphs">670</text>
<text x="971.0" y="1332.57" font-size="73.5" text-anchor="end" textLength="107.1" lengthAdjust="spacingAndGlyphs">672</text>
<text x="971.0" y="1270.39" font-size="73.5" text-anchor="end" textLength="107.1" lengthAdjust="spacingAndGlyphs">674</text>
<text x="971.0" y="1208.21" font-size="73.5" text-anchor="end" textLength="107.1" lengthAdjust="spacingAndGlyphs">676</text>
<text x="971.0" y="1146.03" font-size="73.5" text-anchor="end" textLength="107.1" lengthAdjust="spacingAndGlyphs">678</text>
<text x="971.0" y="1083.85" font-size="73.5" text-anchor="end" textLength="107.1" lengthAdjust="spacingAndGlyphs">680</text>
<text x="971.0" y="1021.67" font-size="73.5" text-anchor="end" textLength="107.1" lengthAdjust="spacingAndGlyphs">682</text>
<text x="971.0" y="959.49" font-size="73.5" text-anchor="end" textLength="107.1" lengthAdjust="spacingAndGlyphs">684</text>
<text x="971.0" y="897.31" font-size="73.5" text-anchor="end" textLength="107.1" lengthAdjust="spacingAndGlyphs">686</text>
<text x="971.0" y="835.13" font-size="73.5" text-anchor="end" textLength="107.1" lengthAdjust="spacingAndGlyphs">688</text>
<text x="971.0" y="772.95" font-size="73.5" text-anchor="end" textLength="107.1" lengthAdjust="spacingAndGlyphs">690</text>
<text x="747.0" y="1569" font-size="52.0" text-anchor="middle">5</text>
<text x="1332.5" y="1569" font-size="73.5" text-anchor="middle">10</text>
<text x="1915.5" y="1569" font-size="52.0" text-anchor="middle">2</text>
<text x="1014.5" y="1446" font-size="52.0" text-anchor="middle">4</text>
<text x="1725.4" y="1446" font-size="52.0" text-anchor="middle">5</text>
</g>
<g>
<text x="686.72" y="120.00" font-size="54.0" textLength="416.81" lengthAdjust="spacingAndGlyphs">Original CCT start</text>
<text x="686.82" y="181.10" font-size="54.0" textLength="431.30" lengthAdjust="spacingAndGlyphs">Modified CCT start</text>
<text x="687.77" y="241.70" font-size="54.0" textLength="434.11" lengthAdjust="spacingAndGlyphs">Critical cooling rate</text>
<text x="954.07" y="1680.90" font-size="90.0" textLength="202.66" lengthAdjust="spacingAndGlyphs">Time</text>
<text x="1180.10" y="1680.90" font-size="97.0" textLength="28.01" lengthAdjust="spacingAndGlyphs">(</text>
<text x="1208.71" y="1680.90" font-size="90.0" textLength="36.92" lengthAdjust="spacingAndGlyphs">s</text>
<text x="1247.29" y="1680.90" font-size="97.0" textLength="28.01" lengthAdjust="spacingAndGlyphs">)</text>
<text transform="translate(100.00,1105.60) rotate(-90)" x="-1.36" y="0" font-size="90.0" textLength="497.33" lengthAdjust="spacingAndGlyphs">Temperature</text>
<text transform="translate(100.00,581.80) rotate(-90)" x="-3.56" y="0" font-size="97.0" textLength="28.52" lengthAdjust="spacingAndGlyphs">(</text>
<text transform="translate(50.00,554.00) rotate(-90)" x="-2.52" y="0" font-size="61.0" textLength="33.03" lengthAdjust="spacingAndGlyphs">o</text>
<text transform="translate(100.00,519.60) rotate(-90)" x="-3.49" y="0" font-size="96.0" textLength="63.33" lengthAdjust="spacingAndGlyphs">C</text>
<text transform="translate(100.00,455.40) rotate(-90)" x="-3.16" y="0" font-size="97.0" textLength="28.52" lengthAdjust="spacingAndGlyphs">)</text>
<text transform="translate(2213.50,1092.90) rotate(-90)" x="-1.66" y="0" font-size="90.0" textLength="497.94" lengthAdjust="spacingAndGlyphs">Temperature</text>
<text transform="translate(2213.50,568.30) rotate(-90)" x="-4.10" y="0" font-size="97.0" textLength="28.78" lengthAdjust="spacingAndGlyphs">(</text>
<text transform="translate(2213.50,539.90) rotate(-90)" x="-2.57" y="0" font-size="93.0" textLength="66.81" lengthAdjust="spacingAndGlyphs">K</text>
<text transform="translate(2213.50,468.70) rotate(-90)" x="-2.41" y="0" font-size="97.0" textLength="28.01" lengthAdjust="spacingAndGlyphs">)</text>
</g>
</g>
</svg></body></html>
